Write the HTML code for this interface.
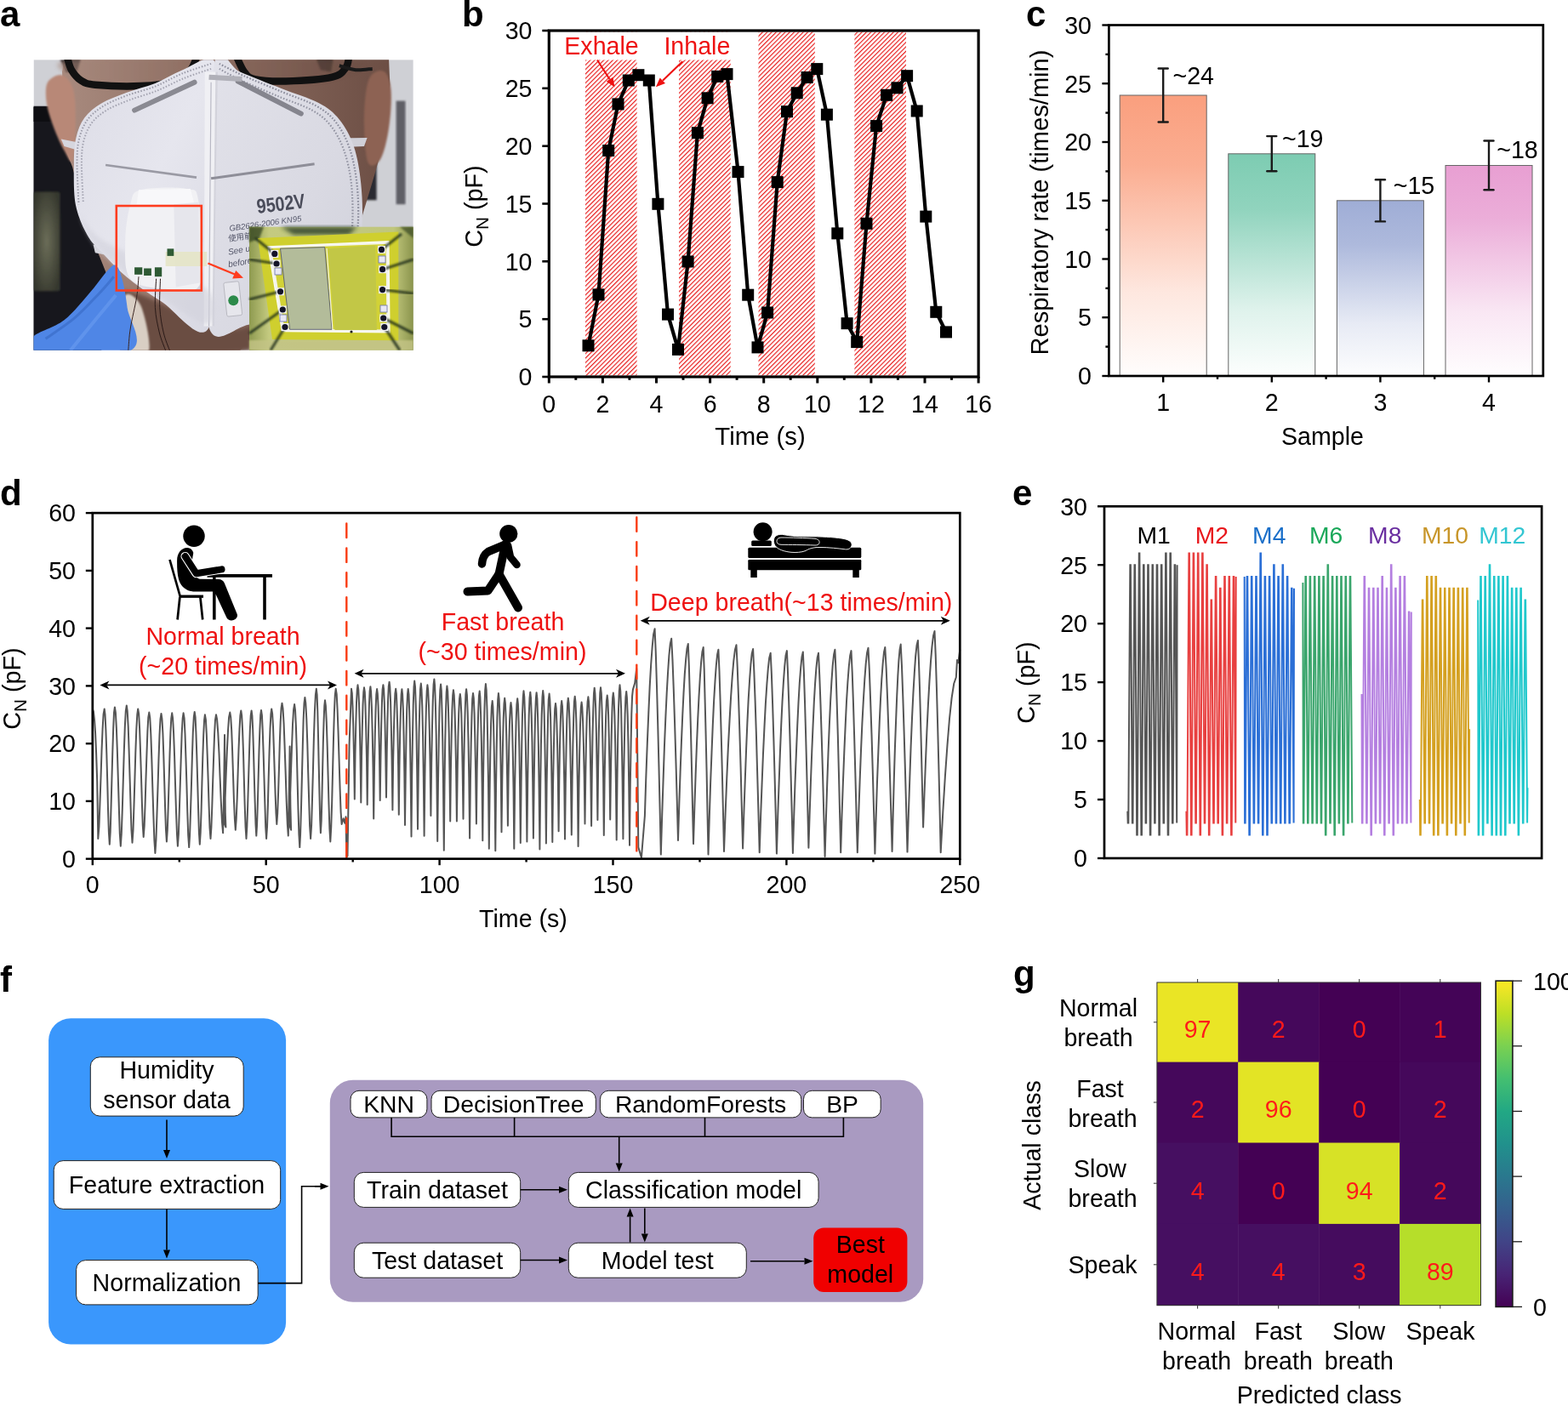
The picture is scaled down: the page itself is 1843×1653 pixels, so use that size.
<!DOCTYPE html>
<html><head><meta charset="utf-8"><title>Figure</title>
<style>html,body{margin:0;padding:0;background:#fff;}svg{display:block;}text{font-family:'Liberation Sans', 'Noto Sans CJK SC', sans-serif;}</style>
</head><body>
<svg width="1843" height="1653" viewBox="0 0 1843 1653">
<rect width="1843" height="1653" fill="#fff"/>
<text x="543" y="30.5" font-size="42" text-anchor="start" fill="#000" font-weight="bold" >b</text>
<defs><pattern id="hatch" patternUnits="userSpaceOnUse" width="3.75" height="3.75" patternTransform="rotate(45)"><rect width="3.75" height="3.75" fill="#fff"/><rect x="0" y="0" width="1.15" height="3.75" fill="#e81818"/></pattern></defs>
<rect x="688" y="37.5" width="60.6" height="404" fill="url(#hatch)"/>
<rect x="798" y="37.5" width="60.7" height="404" fill="url(#hatch)"/>
<rect x="891.5" y="37.5" width="66.3" height="404" fill="url(#hatch)"/>
<rect x="1004.4" y="37.5" width="60.6" height="404" fill="url(#hatch)"/>
<rect x="655" y="37.6" width="215" height="32.9" fill="#fff"/>
<polyline points="691.5,406.3 703.5,346.4 715.2,177 726.5,122.4 738.8,94.5 750.4,88.2 762.8,94.5 773.4,239.8 785,369.6 797,410.9 808.6,307.5 819.9,156.2 831.6,115.3 843.2,89.9 854.5,87.1 867.5,202.1 879.2,346.7 890.5,408.4 902.1,367.5 913.7,214.1 925,131.2 936.7,109.3 948.6,91 960.3,81.1 971.9,134.7 984.3,274.4 995.6,380.2 1007.2,402.1 1018.5,262.8 1030.1,148.1 1042.1,111.8 1054.5,103.3 1066.1,89.2 1077.7,130.5 1088.3,254.6 1100.3,366.8 1112,390.4" fill="none" stroke="#000" stroke-width="4.2" stroke-linejoin="round"/>
<rect x="684.5" y="399.3" width="14" height="14" fill="#000"/>
<rect x="696.5" y="339.4" width="14" height="14" fill="#000"/>
<rect x="708.2" y="170" width="14" height="14" fill="#000"/>
<rect x="719.5" y="115.4" width="14" height="14" fill="#000"/>
<rect x="731.8" y="87.5" width="14" height="14" fill="#000"/>
<rect x="743.4" y="81.2" width="14" height="14" fill="#000"/>
<rect x="755.8" y="87.5" width="14" height="14" fill="#000"/>
<rect x="766.4" y="232.8" width="14" height="14" fill="#000"/>
<rect x="778" y="362.6" width="14" height="14" fill="#000"/>
<rect x="790" y="403.9" width="14" height="14" fill="#000"/>
<rect x="801.6" y="300.5" width="14" height="14" fill="#000"/>
<rect x="812.9" y="149.2" width="14" height="14" fill="#000"/>
<rect x="824.6" y="108.3" width="14" height="14" fill="#000"/>
<rect x="836.2" y="82.9" width="14" height="14" fill="#000"/>
<rect x="847.5" y="80.1" width="14" height="14" fill="#000"/>
<rect x="860.5" y="195.1" width="14" height="14" fill="#000"/>
<rect x="872.2" y="339.7" width="14" height="14" fill="#000"/>
<rect x="883.5" y="401.4" width="14" height="14" fill="#000"/>
<rect x="895.1" y="360.5" width="14" height="14" fill="#000"/>
<rect x="906.7" y="207.1" width="14" height="14" fill="#000"/>
<rect x="918" y="124.2" width="14" height="14" fill="#000"/>
<rect x="929.7" y="102.3" width="14" height="14" fill="#000"/>
<rect x="941.6" y="84" width="14" height="14" fill="#000"/>
<rect x="953.3" y="74.1" width="14" height="14" fill="#000"/>
<rect x="964.9" y="127.7" width="14" height="14" fill="#000"/>
<rect x="977.3" y="267.4" width="14" height="14" fill="#000"/>
<rect x="988.6" y="373.2" width="14" height="14" fill="#000"/>
<rect x="1000.2" y="395.1" width="14" height="14" fill="#000"/>
<rect x="1011.5" y="255.8" width="14" height="14" fill="#000"/>
<rect x="1023.1" y="141.1" width="14" height="14" fill="#000"/>
<rect x="1035.1" y="104.8" width="14" height="14" fill="#000"/>
<rect x="1047.5" y="96.3" width="14" height="14" fill="#000"/>
<rect x="1059.1" y="82.2" width="14" height="14" fill="#000"/>
<rect x="1070.7" y="123.5" width="14" height="14" fill="#000"/>
<rect x="1081.3" y="247.6" width="14" height="14" fill="#000"/>
<rect x="1093.3" y="359.8" width="14" height="14" fill="#000"/>
<rect x="1105" y="383.4" width="14" height="14" fill="#000"/>
<rect x="645.3" y="36" width="504.8" height="407" fill="none" stroke="#000" stroke-width="3.2"/>
<line x1="645.3" y1="443" x2="645.3" y2="450.5" stroke="#000" stroke-width="3" />
<text x="645.3" y="484.6" font-size="28.6" text-anchor="middle" fill="#000" >0</text>
<line x1="676.8" y1="443" x2="676.8" y2="446.8" stroke="#000" stroke-width="3" />
<line x1="708.4" y1="443" x2="708.4" y2="450.5" stroke="#000" stroke-width="3" />
<text x="708.4" y="484.6" font-size="28.6" text-anchor="middle" fill="#000" >2</text>
<line x1="739.9" y1="443" x2="739.9" y2="446.8" stroke="#000" stroke-width="3" />
<line x1="771.5" y1="443" x2="771.5" y2="450.5" stroke="#000" stroke-width="3" />
<text x="771.5" y="484.6" font-size="28.6" text-anchor="middle" fill="#000" >4</text>
<line x1="803" y1="443" x2="803" y2="446.8" stroke="#000" stroke-width="3" />
<line x1="834.6" y1="443" x2="834.6" y2="450.5" stroke="#000" stroke-width="3" />
<text x="834.6" y="484.6" font-size="28.6" text-anchor="middle" fill="#000" >6</text>
<line x1="866.1" y1="443" x2="866.1" y2="446.8" stroke="#000" stroke-width="3" />
<line x1="897.7" y1="443" x2="897.7" y2="450.5" stroke="#000" stroke-width="3" />
<text x="897.7" y="484.6" font-size="28.6" text-anchor="middle" fill="#000" >8</text>
<line x1="929.2" y1="443" x2="929.2" y2="446.8" stroke="#000" stroke-width="3" />
<line x1="960.8" y1="443" x2="960.8" y2="450.5" stroke="#000" stroke-width="3" />
<text x="960.8" y="484.6" font-size="28.6" text-anchor="middle" fill="#000" >10</text>
<line x1="992.3" y1="443" x2="992.3" y2="446.8" stroke="#000" stroke-width="3" />
<line x1="1023.9" y1="443" x2="1023.9" y2="450.5" stroke="#000" stroke-width="3" />
<text x="1023.9" y="484.6" font-size="28.6" text-anchor="middle" fill="#000" >12</text>
<line x1="1055.4" y1="443" x2="1055.4" y2="446.8" stroke="#000" stroke-width="3" />
<line x1="1087" y1="443" x2="1087" y2="450.5" stroke="#000" stroke-width="3" />
<text x="1087" y="484.6" font-size="28.6" text-anchor="middle" fill="#000" >14</text>
<line x1="1118.5" y1="443" x2="1118.5" y2="446.8" stroke="#000" stroke-width="3" />
<line x1="1150.1" y1="443" x2="1150.1" y2="450.5" stroke="#000" stroke-width="3" />
<text x="1150.1" y="484.6" font-size="28.6" text-anchor="middle" fill="#000" >16</text>
<line x1="637.3" y1="443" x2="645.3" y2="443" stroke="#000" stroke-width="2.6" />
<text x="625.5" y="453.2" font-size="28.6" text-anchor="end" fill="#000" >0</text>
<line x1="637.3" y1="375.2" x2="645.3" y2="375.2" stroke="#000" stroke-width="2.6" />
<text x="625.5" y="385.4" font-size="28.6" text-anchor="end" fill="#000" >5</text>
<line x1="637.3" y1="307.3" x2="645.3" y2="307.3" stroke="#000" stroke-width="2.6" />
<text x="625.5" y="317.5" font-size="28.6" text-anchor="end" fill="#000" >10</text>
<line x1="637.3" y1="239.5" x2="645.3" y2="239.5" stroke="#000" stroke-width="2.6" />
<text x="625.5" y="249.7" font-size="28.6" text-anchor="end" fill="#000" >15</text>
<line x1="637.3" y1="171.7" x2="645.3" y2="171.7" stroke="#000" stroke-width="2.6" />
<text x="625.5" y="181.9" font-size="28.6" text-anchor="end" fill="#000" >20</text>
<line x1="637.3" y1="103.8" x2="645.3" y2="103.8" stroke="#000" stroke-width="2.6" />
<text x="625.5" y="114" font-size="28.6" text-anchor="end" fill="#000" >25</text>
<line x1="637.3" y1="36" x2="645.3" y2="36" stroke="#000" stroke-width="2.6" />
<text x="625.5" y="46.2" font-size="28.6" text-anchor="end" fill="#000" >30</text>
<text x="893.5" y="522.8" font-size="29.3" text-anchor="middle" fill="#000" >Time (s)</text>
<text transform="translate(567,242.5) rotate(-90)" font-size="28.8" text-anchor="middle">C<tspan font-size="20.5" dy="7.2">N</tspan><tspan dy="-7.2"> (pF)</tspan></text>
<text x="663.3" y="63.5" font-size="28.6" text-anchor="start" fill="#ee1111" >Exhale</text>
<text x="780.4" y="63.5" font-size="28.6" text-anchor="start" fill="#ee1111" >Inhale</text>
<line x1="702" y1="70.5" x2="716.6" y2="93.2" stroke="#ee1111" stroke-width="2.1" />
<polygon points="722.5,102.5 712.8,95.7 720.4,90.8" fill="#ee1111"/>
<line x1="802.3" y1="72.3" x2="778.9" y2="94.7" stroke="#ee1111" stroke-width="2.1" />
<polygon points="770.9,102.3 775.7,91.4 782,98" fill="#ee1111"/>
<text x="1206" y="31" font-size="42" text-anchor="start" fill="#000" font-weight="bold" >c</text>
<defs><linearGradient id="g1" x1="0" y1="0" x2="0" y2="1"><stop offset="0" stop-color="#fa9f7e"/><stop offset="0.25" stop-color="#fa9f7e" stop-opacity="0.85"/><stop offset="0.7" stop-color="#fa9f7e" stop-opacity="0.25"/><stop offset="1" stop-color="#fa9f7e" stop-opacity="0.02"/></linearGradient><linearGradient id="g2" x1="0" y1="0" x2="0" y2="1"><stop offset="0" stop-color="#7dccb2"/><stop offset="0.25" stop-color="#7dccb2" stop-opacity="0.85"/><stop offset="0.7" stop-color="#7dccb2" stop-opacity="0.25"/><stop offset="1" stop-color="#7dccb2" stop-opacity="0.02"/></linearGradient><linearGradient id="g3" x1="0" y1="0" x2="0" y2="1"><stop offset="0" stop-color="#9fadd6"/><stop offset="0.25" stop-color="#9fadd6" stop-opacity="0.85"/><stop offset="0.7" stop-color="#9fadd6" stop-opacity="0.25"/><stop offset="1" stop-color="#9fadd6" stop-opacity="0.02"/></linearGradient><linearGradient id="g4" x1="0" y1="0" x2="0" y2="1"><stop offset="0" stop-color="#e89fd2"/><stop offset="0.25" stop-color="#e89fd2" stop-opacity="0.85"/><stop offset="0.7" stop-color="#e89fd2" stop-opacity="0.25"/><stop offset="1" stop-color="#e89fd2" stop-opacity="0.02"/></linearGradient></defs>
<rect x="1316.2" y="112" width="102" height="330" fill="url(#g1)" stroke="#666" stroke-width="1"/>
<rect x="1443.8" y="180.8" width="102" height="261.2" fill="url(#g2)" stroke="#666" stroke-width="1"/>
<rect x="1571.4" y="235.8" width="102" height="206.2" fill="url(#g3)" stroke="#666" stroke-width="1"/>
<rect x="1699" y="194.5" width="102" height="247.5" fill="url(#g4)" stroke="#666" stroke-width="1"/>
<line x1="1367.2" y1="80.5" x2="1367.2" y2="143.5" stroke="#1a1a1a" stroke-width="2.4" />
<line x1="1361.7" y1="80.5" x2="1372.7" y2="80.5" stroke="#1a1a1a" stroke-width="2.4" stroke-linecap="round"/>
<line x1="1361.7" y1="143.5" x2="1372.7" y2="143.5" stroke="#1a1a1a" stroke-width="2.4" stroke-linecap="round"/>
<line x1="1494.8" y1="160.1" x2="1494.8" y2="201.2" stroke="#1a1a1a" stroke-width="2.4" />
<line x1="1489.3" y1="160.1" x2="1500.3" y2="160.1" stroke="#1a1a1a" stroke-width="2.4" stroke-linecap="round"/>
<line x1="1489.3" y1="201.2" x2="1500.3" y2="201.2" stroke="#1a1a1a" stroke-width="2.4" stroke-linecap="round"/>
<line x1="1622.4" y1="211.2" x2="1622.4" y2="260.4" stroke="#1a1a1a" stroke-width="2.4" />
<line x1="1616.9" y1="211.2" x2="1627.9" y2="211.2" stroke="#1a1a1a" stroke-width="2.4" stroke-linecap="round"/>
<line x1="1616.9" y1="260.4" x2="1627.9" y2="260.4" stroke="#1a1a1a" stroke-width="2.4" stroke-linecap="round"/>
<line x1="1750" y1="165.5" x2="1750" y2="223.2" stroke="#1a1a1a" stroke-width="2.4" />
<line x1="1744.5" y1="165.5" x2="1755.5" y2="165.5" stroke="#1a1a1a" stroke-width="2.4" stroke-linecap="round"/>
<line x1="1744.5" y1="223.2" x2="1755.5" y2="223.2" stroke="#1a1a1a" stroke-width="2.4" stroke-linecap="round"/>
<text x="1378.5" y="99.2" font-size="28.6" text-anchor="start" fill="#000" >~24</text>
<text x="1507" y="172.5" font-size="28.6" text-anchor="start" fill="#000" >~19</text>
<text x="1637.7" y="227.5" font-size="28.6" text-anchor="start" fill="#000" >~15</text>
<text x="1759.2" y="185.5" font-size="28.6" text-anchor="start" fill="#000" >~18</text>
<rect x="1303.4" y="29.5" width="510.4" height="412.5" fill="none" stroke="#000" stroke-width="2.7"/>
<line x1="1295.4" y1="442" x2="1303.4" y2="442" stroke="#000" stroke-width="2.4" />
<text x="1283" y="452.2" font-size="28.6" text-anchor="end" fill="#000" >0</text>
<line x1="1299.4" y1="407.6" x2="1303.4" y2="407.6" stroke="#000" stroke-width="2.4" />
<line x1="1295.4" y1="373.2" x2="1303.4" y2="373.2" stroke="#000" stroke-width="2.4" />
<text x="1283" y="383.4" font-size="28.6" text-anchor="end" fill="#000" >5</text>
<line x1="1299.4" y1="338.9" x2="1303.4" y2="338.9" stroke="#000" stroke-width="2.4" />
<line x1="1295.4" y1="304.5" x2="1303.4" y2="304.5" stroke="#000" stroke-width="2.4" />
<text x="1283" y="314.7" font-size="28.6" text-anchor="end" fill="#000" >10</text>
<line x1="1299.4" y1="270.1" x2="1303.4" y2="270.1" stroke="#000" stroke-width="2.4" />
<line x1="1295.4" y1="235.8" x2="1303.4" y2="235.8" stroke="#000" stroke-width="2.4" />
<text x="1283" y="245.9" font-size="28.6" text-anchor="end" fill="#000" >15</text>
<line x1="1299.4" y1="201.4" x2="1303.4" y2="201.4" stroke="#000" stroke-width="2.4" />
<line x1="1295.4" y1="167" x2="1303.4" y2="167" stroke="#000" stroke-width="2.4" />
<text x="1283" y="177.2" font-size="28.6" text-anchor="end" fill="#000" >20</text>
<line x1="1299.4" y1="132.6" x2="1303.4" y2="132.6" stroke="#000" stroke-width="2.4" />
<line x1="1295.4" y1="98.2" x2="1303.4" y2="98.2" stroke="#000" stroke-width="2.4" />
<text x="1283" y="108.5" font-size="28.6" text-anchor="end" fill="#000" >25</text>
<line x1="1299.4" y1="63.9" x2="1303.4" y2="63.9" stroke="#000" stroke-width="2.4" />
<line x1="1295.4" y1="29.5" x2="1303.4" y2="29.5" stroke="#000" stroke-width="2.4" />
<text x="1283" y="39.7" font-size="28.6" text-anchor="end" fill="#000" >30</text>
<line x1="1367.2" y1="442" x2="1367.2" y2="449.5" stroke="#000" stroke-width="2.4" />
<text x="1367.2" y="482.6" font-size="28.6" text-anchor="middle" fill="#000" >1</text>
<line x1="1431" y1="442" x2="1431" y2="445.8" stroke="#000" stroke-width="2.4" />
<line x1="1494.8" y1="442" x2="1494.8" y2="449.5" stroke="#000" stroke-width="2.4" />
<text x="1494.8" y="482.6" font-size="28.6" text-anchor="middle" fill="#000" >2</text>
<line x1="1558.6" y1="442" x2="1558.6" y2="445.8" stroke="#000" stroke-width="2.4" />
<line x1="1622.4" y1="442" x2="1622.4" y2="449.5" stroke="#000" stroke-width="2.4" />
<text x="1622.4" y="482.6" font-size="28.6" text-anchor="middle" fill="#000" >3</text>
<line x1="1686.2" y1="442" x2="1686.2" y2="445.8" stroke="#000" stroke-width="2.4" />
<line x1="1750" y1="442" x2="1750" y2="449.5" stroke="#000" stroke-width="2.4" />
<text x="1750" y="482.6" font-size="28.6" text-anchor="middle" fill="#000" >4</text>
<text x="1554.5" y="522.5" font-size="28.6" text-anchor="middle" fill="#000" >Sample</text>
<text transform="translate(1232,238) rotate(-90)" font-size="29.1" text-anchor="middle">Respiratory rate (times/min)</text>
<text x="0" y="594" font-size="42" text-anchor="start" fill="#000" font-weight="bold" >d</text>
<path d="M108.8,833.5 L109.9,836.6 L111,846.1 L112.1,862.1 L113.1,885.4 L114.2,918.2 L115.3,986 L116.4,972.2 L117.4,945.9 L118.5,914.4 L119.5,883.1 L120.6,856.9 L121.6,839.6 L122.7,833.5 L123.5,839.8 L124.4,858 L125.3,885.3 L126.2,918 L127,950.9 L127.9,978.4 L128.8,992.8 L129.7,978.2 L130.5,950.4 L131.4,917 L132.3,884 L133.2,856.3 L134,837.9 L134.9,831.5 L135.9,838 L136.9,856.6 L137.9,884.6 L138.9,918.1 L139.9,951.9 L140.8,980 L141.8,994.8 L142.8,979.9 L143.8,951.3 L144.8,917.1 L145.8,883.3 L146.8,854.9 L147.8,836 L148.8,829.4 L149.7,835.9 L150.7,854.2 L151.6,881.9 L152.6,915 L153.6,948.3 L154.5,976.2 L155.5,990.7 L156.5,976.5 L157.4,949.4 L158.4,916.9 L159.3,884.7 L160.3,857.7 L161.3,839.8 L162.2,833.5 L163.2,839.5 L164.1,856.6 L165,882.5 L166,913.3 L166.9,944.4 L167.8,970.4 L168.7,983.9 L169.7,970.7 L170.6,945.5 L171.5,915.2 L172.5,885.2 L173.4,860.1 L174.3,843.4 L175.3,837.6 L176.3,844.2 L177.3,863 L178.3,891.4 L179.3,925.3 L180.4,959.5 L181.4,988 L182.4,1002.9 L183.4,988.1 L184.4,959.8 L185.5,925.9 L186.5,892.3 L187.5,864.1 L188.5,845.5 L189.5,838.9 L190.4,844.9 L191.4,862 L192.3,887.9 L193.2,918.7 L194.1,949.8 L195,975.8 L195.9,989.4 L196.8,975.7 L197.7,949.6 L198.6,918.4 L199.5,887.4 L200.4,861.5 L201.3,844.3 L202.2,838.3 L203.1,844.5 L204.1,862.3 L205.1,889.2 L206,921.3 L207,953.6 L208,980.7 L208.9,994.8 L209.9,980.7 L210.8,953.6 L211.8,921.3 L212.8,889.2 L213.7,862.3 L214.7,844.5 L215.6,838.3 L216.6,844.5 L217.5,862.5 L218.4,889.6 L219.4,922 L220.3,954.6 L221.2,981.9 L222.2,996.1 L223.1,981.8 L224,954.3 L225,921.4 L225.9,888.7 L226.8,861.4 L227.8,843.2 L228.7,836.9 L229.6,843.1 L230.4,860.8 L231.3,887.6 L232.2,919.6 L233.1,951.8 L233.9,978.7 L234.8,992.8 L235.7,979 L236.6,952.7 L237.4,921.2 L238.3,889.9 L239.2,863.7 L240.1,846.4 L240.9,840.3 L241.9,846.1 L242.8,862.7 L243.7,887.7 L244.7,917.6 L245.6,947.7 L246.5,972.8 L247.5,986 L248.4,972.8 L249.3,947.7 L250.2,917.6 L251.2,887.7 L252.1,862.7 L253,846.1 L254,840.3 L255.1,845.8 L256.3,861.6 L257.5,885.5 L258.6,914 L259.8,942.7 L261,966.7 L262.1,979.2 L263.2,928.4 L264,864 L264.8,955.5 L265.4,972.4 L263.3,966.4 L264.5,942 L265.6,912.7 L266.8,883.7 L268,859.3 L269.1,843.2 L270.3,837.6 L271.2,843.1 L272.2,858.8 L273.1,882.6 L274,910.9 L274.9,939.5 L275.9,963.3 L276.8,975.8 L277.7,963.1 L278.7,938.9 L279.6,909.9 L280.5,881.2 L281.5,857.1 L282.4,841.1 L283.3,835.5 L284.2,841.5 L285.1,858.7 L286,884.5 L286.8,915.3 L287.7,946.4 L288.6,972.4 L289.5,986 L290.3,972.4 L291.2,946.4 L292.1,915.3 L293,884.5 L293.8,858.7 L294.7,841.5 L295.6,835.5 L296.4,841.4 L297.2,858.1 L298,883.4 L298.8,913.5 L299.7,943.9 L300.5,969.3 L301.3,982.6 L302.1,969.2 L302.9,943.8 L303.7,913.2 L304.5,882.9 L305.4,857.6 L306.2,840.7 L307,834.9 L307.9,840.9 L308.7,858.1 L309.6,884.1 L310.5,915 L311.4,946.3 L312.2,972.3 L313.1,986 L314,972.2 L314.9,945.9 L315.7,914.4 L316.6,883.1 L317.5,856.9 L318.4,839.6 L319.2,833.5 L320.1,838.9 L321,854.3 L321.8,877.6 L322.7,905.4 L323.6,933.4 L324.5,956.8 L325.3,969 L326.2,956.2 L327.1,931.6 L328,902.2 L328.8,873.1 L329.7,848.6 L330.6,832.4 L331.5,826.7 L332.5,832.9 L333.6,850.7 L334.6,877.5 L335.7,909.4 L336.7,941.6 L337.8,968.5 L338.8,982.6 L339.8,928.4 L340.6,877.6 L341.4,948.7 L342.1,975.8 L339.8,968.6 L340.9,942 L341.9,910 L343,878.4 L344,851.8 L345.1,834.2 L346.1,828.1 L347,834.8 L347.9,853.9 L348.8,882.8 L349.6,917.2 L350.5,952 L351.4,981 L352.3,996.1 L353.1,980.2 L354,949.8 L354.9,913.4 L355.8,877.3 L356.6,847 L357.5,827 L358.4,820 L359.3,826.6 L360.3,845.5 L361.3,874 L362.2,908 L363.2,942.3 L364.1,971 L365.1,986 L366.1,970.1 L367,939.7 L368,903.2 L368.9,867.1 L369.9,836.9 L370.9,816.8 L371.8,809.8 L372.6,816.5 L373.3,835.8 L374,864.9 L374.7,899.6 L375.5,934.7 L376.2,963.9 L376.9,979.2 L377.7,965.1 L378.4,938.2 L379.1,906 L379.8,874.1 L380.6,847.3 L381.3,829.5 L382,823.3 L382.9,830 L383.8,848.9 L384.7,877.4 L385.6,911.4 L386.5,945.7 L387.4,974.4 L388.3,989.4 L389.2,973.1 L390.2,942.2 L391.1,905 L392,868.2 L392.9,837.4 L393.8,816.9 L394.7,809.8 L395.7,816.1 L396.6,834.3 L397.6,861.6 L398.6,894.3 L399.6,927.2 L400.6,954.7 L401.6,969 L403.6,962.3 L405.3,967.7 L406.5,960.2 L407.3,1007.7 L408.5,1006.3 L410.6,874.2 L413,809.8 L413.8,814.9 L414.5,830 L415.3,854.7 L416,888.7 L416.8,939.4 L417.5,887 L418.3,851.7 L419,826.2 L419.8,810.6 L420.5,805.3 L421.3,810.8 L422,826.9 L422.8,853.2 L423.5,889.6 L424.3,943.6 L425,890.7 L425.8,855.2 L426.5,829.4 L427.3,813.7 L428,808.3 L428.8,813.7 L429.5,829.8 L430.2,856 L431,892.2 L431.7,946 L432.4,891.8 L433.2,855.3 L433.9,828.9 L434.6,812.7 L435.4,807.2 L436.1,813.3 L436.9,831.4 L437.7,861 L438.5,901.9 L439.2,962.6 L440,903 L440.8,862.9 L441.6,833.9 L442.3,816.1 L443.1,810.1 L443.8,815.3 L444.6,830.5 L445.3,855.4 L446,889.8 L446.7,940.9 L447.5,887.9 L448.2,852.2 L448.9,826.4 L449.6,810.6 L450.4,805.2 L451.1,810.4 L451.8,825.9 L452.5,851 L453.2,885.8 L454,937.5 L454.7,884.4 L455.4,848.7 L456.1,822.8 L456.8,807 L457.6,801.7 L458.3,807.6 L459.1,825.2 L459.8,853.8 L460.6,893.4 L461.4,952.3 L462.1,896.6 L462.9,859.1 L463.7,832 L464.4,815.4 L465.2,809.8 L465.9,815.6 L466.6,832.9 L467.4,861 L468.1,899.9 L468.8,957.8 L469.5,900.1 L470.2,861.3 L471,833.2 L471.7,816 L472.4,810.2 L473.1,816.5 L473.9,835.1 L474.6,865.5 L475.3,907.5 L476,969.9 L476.8,907.3 L477.5,865.3 L478.2,834.8 L479,816.2 L479.7,809.9 L480.5,816.7 L481.2,837 L482,870 L482.7,915.7 L483.5,983.5 L484.2,912 L485,863.9 L485.7,829 L486.5,807.7 L487.2,800.5 L488,807.3 L488.7,827.6 L489.5,860.8 L490.2,906.6 L491,974.7 L491.8,907.8 L492.5,862.8 L493.3,830.2 L494,810.3 L494.8,803.5 L495.5,810.6 L496.3,831.5 L497.1,865.6 L497.8,912.7 L498.6,982.8 L499.4,913.4 L500.1,866.7 L500.9,833 L501.7,812.3 L502.4,805.3 L503.2,811.3 L504,829.3 L504.8,858.5 L505.6,899 L506.4,959.1 L507.2,896.3 L508,854.1 L508.8,823.6 L509.6,804.8 L510.4,798.5 L511.1,806 L511.9,828.2 L512.7,864.5 L513.4,914.6 L514.2,989 L515,916.9 L515.8,868.4 L516.5,833.2 L517.3,811.7 L518.1,804.4 L518.8,812.1 L519.5,834.9 L520.3,872.1 L521,923.5 L521.8,999.8 L522.5,924.3 L523.2,873.5 L524,836.7 L524.7,814.1 L525.4,806.5 L526.2,812.8 L526.9,831.4 L527.7,861.6 L528.4,903.5 L529.2,965.6 L529.9,905.3 L530.7,864.7 L531.4,835.3 L532.2,817.3 L532.9,811.2 L533.7,817.2 L534.5,835.3 L535.3,864.7 L536.1,905.2 L536.9,965.6 L537.7,907.1 L538.4,867.7 L539.2,839.2 L540,821.8 L540.8,815.9 L541.5,821.7 L542.3,838.8 L543,866.8 L543.7,905.4 L544.5,962.8 L545.2,903.2 L545.9,863 L546.7,834 L547.4,816.2 L548.1,810.2 L548.9,817.1 L549.7,837.5 L550.5,870.8 L551.3,916.9 L552.1,985.4 L552.9,918.8 L553.7,874 L554.5,841.6 L555.2,821.7 L556,815 L556.8,821 L557.6,839 L558.3,868.2 L559.1,908.6 L559.9,968.6 L560.6,907.6 L561.4,866.6 L562.2,836.9 L562.9,818.7 L563.7,812.6 L564.4,819.5 L565.1,840 L565.9,873.4 L566.6,919.6 L567.3,988.3 L568,916.3 L568.7,867.9 L569.5,832.8 L570.2,811.4 L570.9,804.1 L571.7,811.7 L572.5,834.3 L573.2,871.2 L574,922.1 L574.8,997.7 L575.6,929.9 L576.3,884.2 L577.1,851.2 L577.9,830.9 L578.7,824.1 L579.4,831 L580.1,851.6 L580.8,885.1 L581.6,931.4 L582.3,1000.3 L583,927.9 L583.7,879.2 L584.4,844 L585.2,822.4 L585.9,815.1 L586.6,821.5 L587.4,840.6 L588.1,871.6 L588.8,914.5 L589.5,978.3 L590.3,916.7 L591,875.3 L591.7,845.4 L592.5,827 L593.2,820.8 L593.9,826.7 L594.7,844.2 L595.4,872.7 L596.1,912.1 L596.9,970.7 L597.6,914.1 L598.3,876.1 L599,848.5 L599.8,831.7 L600.5,826 L601.3,832.7 L602,852.8 L602.8,885.5 L603.6,930.6 L604.3,997.8 L605.1,928.8 L605.9,882.4 L606.6,848.8 L607.4,828.2 L608.2,821.2 L608.9,827.9 L609.6,847.7 L610.4,880 L611.1,924.7 L611.8,991 L612.6,921.2 L613.3,874.2 L614,840.2 L614.8,819.3 L615.5,812.3 L616.3,819.3 L617,839.9 L617.8,873.7 L618.6,920.3 L619.4,989.5 L620.2,920.8 L620.9,874.6 L621.7,841.1 L622.5,820.6 L623.3,813.7 L624,820.5 L624.7,840.5 L625.5,873.2 L626.2,918.4 L626.9,985.6 L627.7,918.6 L628.4,873.5 L629.1,840.9 L629.9,820.9 L630.6,814.2 L631.4,821.4 L632.1,842.9 L632.9,878 L633.6,926.5 L634.4,998.5 L635.2,925.6 L635.9,876.6 L636.7,841.1 L637.5,819.3 L638.2,812 L639,819.1 L639.7,840 L640.4,874.2 L641.2,921.4 L641.9,991.5 L642.6,922.7 L643.4,876.5 L644.1,843 L644.8,822.4 L645.6,815.5 L646.3,822.4 L647.1,842.7 L647.8,875.9 L648.5,921.7 L649.3,989.9 L650,926.2 L650.8,883.3 L651.5,852.3 L652.2,833.3 L653,826.9 L653.7,832.8 L654.4,850.3 L655.2,879 L655.9,918.5 L656.6,977.3 L657.3,917.4 L658,877.2 L658.8,848 L659.5,830.2 L660.2,824.1 L661,830.5 L661.7,849.5 L662.5,880.4 L663.3,923.1 L664,986.6 L664.8,921.7 L665.6,878.1 L666.3,846.6 L667.1,827.2 L667.8,820.7 L668.6,827 L669.4,845.8 L670.2,876.4 L671,918.7 L671.8,981.6 L672.6,918 L673.4,875.1 L674.2,844.1 L674.9,825.1 L675.7,818.7 L676.5,825.7 L677.3,846.2 L678.1,879.7 L678.9,926 L679.6,994.9 L680.4,928.7 L681.2,884.2 L682,852 L682.8,832.2 L683.6,825.6 L684.3,831.2 L685.1,847.9 L685.9,875.1 L686.7,912.6 L687.5,968.4 L688.3,910.2 L689,871 L689.8,842.6 L690.6,825.2 L691.4,819.3 L692.1,825.3 L692.9,843 L693.6,871.9 L694.3,911.8 L695.1,971.1 L695.8,907.6 L696.5,864.9 L697.3,834 L698,815 L698.7,808.7 L699.4,814.8 L700.2,832.9 L700.9,862.4 L701.6,903.3 L702.4,964 L703.1,903.1 L703.8,862.2 L704.6,832.5 L705.3,814.4 L706,808.2 L706.8,815.1 L707.6,835.3 L708.3,868.4 L709.1,914 L709.8,981.9 L710.6,917.7 L711.4,874.5 L712.1,843.2 L712.9,824 L713.7,817.6 L714.4,823.3 L715.1,840.3 L715.8,868.1 L716.5,906.5 L717.2,963.5 L718,905.3 L718.7,866.1 L719.4,837.7 L720.1,820.3 L720.8,814.5 L721.6,821.3 L722.4,841.4 L723.2,874.4 L723.9,919.8 L724.7,987.4 L725.5,916.3 L726.2,868.4 L727,833.7 L727.8,812.5 L728.5,805.3 L729.3,812.5 L730.1,833.5 L730.8,868 L731.6,915.5 L732.4,986.2 L733.1,918.5 L733.9,872.9 L734.6,839.9 L735.4,819.7 L736.2,812.9 L736.9,820 L737.7,841.1 L738.5,875.5 L739.2,923.1 L740,993.8 L740.8,922.3 L741.6,874.2 L742.3,839.4 L743.1,818.1 L743.9,810.9 L746.2,803 L748.2,786.1 L750.3,996.1 L753.9,1008.3 L757.9,959 L759.3,914.4 L760.8,874 L762.3,838.1 L763.7,806.9 L765.2,780.8 L766.7,760.1 L768.1,745.7 L769.6,739.3 L770.8,767.6 L772,806.5 L773.2,850.9 L774.4,899.1 L775.6,950.5 L776.8,1004.6 L778.2,958.6 L779.6,916.4 L780.9,878.2 L782.3,844.3 L783.7,814.8 L785.1,790 L786.4,770.5 L787.8,756.9 L789.2,750.8 L790.5,776.1 L791.8,810.9 L793.1,850.6 L794.4,893.7 L795.7,939.7 L797,988 L798.3,946.1 L799.6,907.7 L800.9,872.9 L802.2,842 L803.5,815.1 L804.8,792.6 L806.2,774.8 L807.5,762.4 L808.8,756.9 L809.8,782 L810.8,816.5 L811.9,855.8 L812.9,898.6 L813.9,944.2 L815,992.1 L816.3,950.1 L817.6,911.7 L818.9,877 L820.2,846.1 L821.5,819.2 L822.8,796.7 L824.1,778.9 L825.4,766.5 L826.7,761 L827.7,786.9 L828.6,822.7 L829.6,863.4 L830.6,907.8 L831.5,955 L832.5,1004.6 L833.8,960.9 L835.1,920.9 L836.5,884.6 L837.8,852.4 L839.1,824.4 L840.5,800.9 L841.8,782.4 L843.1,769.5 L844.4,763.7 L845.5,789 L846.6,823.8 L847.7,863.4 L848.8,906.6 L849.9,952.6 L851,1000.9 L852.6,956.9 L854.2,916.5 L855.8,880.1 L857.5,847.6 L859.1,819.4 L860.7,795.8 L862.3,777.1 L863.9,764.1 L865.5,758.3 L866.7,783.8 L868,818.9 L869.3,858.9 L870.6,902.4 L871.8,948.8 L873.1,997.5 L874.4,955 L875.8,916 L877.1,880.7 L878.4,849.4 L879.7,822.1 L881.1,799.3 L882.4,781.2 L883.7,768.6 L885.1,763 L886.3,788.5 L887.6,823.6 L888.9,863.6 L890.1,907.1 L891.4,953.5 L892.7,1002.2 L894.1,959.7 L895.6,920.7 L897,885.5 L898.5,854.1 L899.9,826.8 L901.4,804 L902.8,786 L904.2,773.4 L905.7,767.8 L906.9,792.9 L908.1,827.5 L909.3,866.9 L910.5,909.8 L911.7,955.5 L912.9,1003.6 L914.2,960.3 L915.6,920.7 L916.9,884.8 L918.2,852.9 L919.5,825.2 L920.9,801.9 L922.2,783.6 L923.5,770.8 L924.9,765.1 L926,790.4 L927.2,825.3 L928.4,865.1 L929.5,908.4 L930.7,954.4 L931.9,1002.9 L933.2,960 L934.5,920.7 L935.9,885.1 L937.2,853.5 L938.5,826 L939.8,803 L941.2,784.8 L942.5,772.1 L943.8,766.4 L944.9,791 L946,824.8 L947.1,863.3 L948.2,905.2 L949.3,949.9 L950.4,996.8 L951.7,955.3 L953,917.2 L954.3,882.7 L955.6,852.1 L956.8,825.5 L958.1,803.2 L959.4,785.5 L960.7,773.2 L962,767.8 L963.2,793.2 L964.5,828.4 L965.8,868.4 L967.1,911.9 L968.3,958.2 L969.6,1007 L970.9,962.8 L972.2,922.4 L973.5,885.8 L974.8,853.3 L976.1,825 L977.4,801.3 L978.7,782.6 L980.1,769.5 L981.4,763.7 L982.5,789.1 L983.6,824.1 L984.8,864 L985.9,907.4 L987,953.6 L988.2,1002.2 L989.5,959.2 L990.9,919.8 L992.3,884.1 L993.7,852.4 L995,824.8 L996.4,801.7 L997.8,783.5 L999.2,770.7 L1000.5,765.1 L1001.7,790.3 L1002.9,825.1 L1004.1,864.8 L1005.3,907.9 L1006.5,953.9 L1007.8,1002.2 L1009.2,958.6 L1010.6,918.6 L1012,882.4 L1013.4,850.2 L1014.9,822.3 L1016.3,798.8 L1017.7,780.3 L1019.1,767.4 L1020.5,761.7 L1021.8,787.4 L1023.1,822.9 L1024.5,863.4 L1025.8,907.4 L1027.1,954.3 L1028.4,1003.6 L1029.7,959.6 L1031,919.2 L1032.4,882.8 L1033.7,850.3 L1035,822.1 L1036.3,798.5 L1037.7,779.8 L1039,766.8 L1040.3,761 L1041.7,786.5 L1043.1,821.8 L1044.5,861.9 L1045.8,905.5 L1047.2,952 L1048.6,1000.9 L1049.7,956.7 L1050.8,916.3 L1051.9,879.7 L1053.1,847.2 L1054.2,818.9 L1055.3,795.2 L1056.4,776.5 L1057.6,763.4 L1058.7,757.6 L1060,783.6 L1061.3,819.4 L1062.6,860.2 L1063.9,904.6 L1065.2,951.8 L1066.5,1001.6 L1067.9,956.4 L1069.3,915.1 L1070.6,877.7 L1072,844.4 L1073.4,815.5 L1074.8,791.3 L1076.1,772.1 L1077.5,758.8 L1078.9,752.9 L1079.9,776.2 L1081,808.5 L1082,845.2 L1083,885.1 L1084,927.7 L1085.1,972.4 L1086.6,930.6 L1088.1,892.3 L1089.5,857.7 L1091,826.8 L1092.5,800.1 L1094,777.6 L1095.5,759.9 L1097,747.5 L1098.5,742 L1099.7,769.7 L1100.9,807.9 L1102.1,851.4 L1103.3,898.8 L1104.5,949.2 L1105.7,1002.2 L1108.3,954.8 L1110.9,912.5 L1113.5,875.8 L1116,845 L1118.6,820.7 L1121.2,803.8 L1123.8,796.2 L1125,775.9 L1126.3,779.3 L1128.3,763.7" fill="none" stroke="#555" stroke-width="2" stroke-linejoin="round"/>
<line x1="407.3" y1="615.5" x2="407.3" y2="1008.7" stroke="#fa3c12" stroke-width="2.4" stroke-dasharray="16.5 12.4" stroke-linecap="round"/>
<line x1="748.3" y1="608.2" x2="748.3" y2="1008.7" stroke="#fa3c12" stroke-width="2.4" stroke-dasharray="16.5 12.4" stroke-linecap="round"/>
<rect x="108.8" y="603.1" width="1019.5" height="406.6" fill="none" stroke="#000" stroke-width="2.7"/>
<line x1="100.8" y1="1009.7" x2="108.8" y2="1009.7" stroke="#000" stroke-width="2.4" />
<text x="89" y="1019.9" font-size="28.6" text-anchor="end" fill="#000" >0</text>
<line x1="100.8" y1="941.9" x2="108.8" y2="941.9" stroke="#000" stroke-width="2.4" />
<text x="89" y="952.1" font-size="28.6" text-anchor="end" fill="#000" >10</text>
<line x1="100.8" y1="874.2" x2="108.8" y2="874.2" stroke="#000" stroke-width="2.4" />
<text x="89" y="884.4" font-size="28.6" text-anchor="end" fill="#000" >20</text>
<line x1="100.8" y1="806.4" x2="108.8" y2="806.4" stroke="#000" stroke-width="2.4" />
<text x="89" y="816.6" font-size="28.6" text-anchor="end" fill="#000" >30</text>
<line x1="100.8" y1="738.6" x2="108.8" y2="738.6" stroke="#000" stroke-width="2.4" />
<text x="89" y="748.8" font-size="28.6" text-anchor="end" fill="#000" >40</text>
<line x1="100.8" y1="670.9" x2="108.8" y2="670.9" stroke="#000" stroke-width="2.4" />
<text x="89" y="681.1" font-size="28.6" text-anchor="end" fill="#000" >50</text>
<line x1="100.8" y1="603.1" x2="108.8" y2="603.1" stroke="#000" stroke-width="2.4" />
<text x="89" y="613.3" font-size="28.6" text-anchor="end" fill="#000" >60</text>
<line x1="108.8" y1="1009.7" x2="108.8" y2="1017.2" stroke="#000" stroke-width="2.4" />
<text x="108.8" y="1050" font-size="28.6" text-anchor="middle" fill="#000" >0</text>
<line x1="210.8" y1="1009.7" x2="210.8" y2="1013.5" stroke="#000" stroke-width="2.4" />
<line x1="312.7" y1="1009.7" x2="312.7" y2="1017.2" stroke="#000" stroke-width="2.4" />
<text x="312.7" y="1050" font-size="28.6" text-anchor="middle" fill="#000" >50</text>
<line x1="414.7" y1="1009.7" x2="414.7" y2="1013.5" stroke="#000" stroke-width="2.4" />
<line x1="516.6" y1="1009.7" x2="516.6" y2="1017.2" stroke="#000" stroke-width="2.4" />
<text x="516.6" y="1050" font-size="28.6" text-anchor="middle" fill="#000" >100</text>
<line x1="618.6" y1="1009.7" x2="618.6" y2="1013.5" stroke="#000" stroke-width="2.4" />
<line x1="720.5" y1="1009.7" x2="720.5" y2="1017.2" stroke="#000" stroke-width="2.4" />
<text x="720.5" y="1050" font-size="28.6" text-anchor="middle" fill="#000" >150</text>
<line x1="822.5" y1="1009.7" x2="822.5" y2="1013.5" stroke="#000" stroke-width="2.4" />
<line x1="924.4" y1="1009.7" x2="924.4" y2="1017.2" stroke="#000" stroke-width="2.4" />
<text x="924.4" y="1050" font-size="28.6" text-anchor="middle" fill="#000" >200</text>
<line x1="1026.4" y1="1009.7" x2="1026.4" y2="1013.5" stroke="#000" stroke-width="2.4" />
<line x1="1128.3" y1="1009.7" x2="1128.3" y2="1017.2" stroke="#000" stroke-width="2.4" />
<text x="1128.3" y="1050" font-size="28.6" text-anchor="middle" fill="#000" >250</text>
<text x="615" y="1090" font-size="28.6" text-anchor="middle" fill="#000" >Time (s)</text>
<text transform="translate(24,809.5) rotate(-90)" font-size="28.8" text-anchor="middle">C<tspan font-size="20.5" dy="7.2">N</tspan><tspan dy="-7.2"> (pF)</tspan></text>
<text x="262" y="758.4" font-size="28.6" text-anchor="middle" fill="#ee1111" >Normal breath</text>
<text x="262" y="792.7" font-size="28.6" text-anchor="middle" fill="#ee1111" >(~20 times/min)</text>
<text x="591" y="740.6" font-size="28.6" text-anchor="middle" fill="#ee1111" >Fast breath</text>
<text x="590.5" y="775.7" font-size="28.6" text-anchor="middle" fill="#ee1111" >(~30 times/min)</text>
<text x="941.8" y="718.4" font-size="28.6" text-anchor="middle" fill="#ee1111" >Deep breath(~13 times/min)</text>
<line x1="125.4" y1="805.4" x2="388" y2="805.4" stroke="#000" stroke-width="1.8" />
<path d="M117.4,805.4 L128.4,800.4 L125.4,805.4 L128.4,810.4 Z" fill="#000"/>
<path d="M396,805.4 L385,800.4 L388,805.4 L385,810.4 Z" fill="#000"/>
<line x1="424.6" y1="791.8" x2="727" y2="791.8" stroke="#000" stroke-width="1.8" />
<path d="M416.6,791.8 L427.6,786.8 L424.6,791.8 L427.6,796.8 Z" fill="#000"/>
<path d="M735,791.8 L724,786.8 L727,791.8 L724,796.8 Z" fill="#000"/>
<line x1="760.7" y1="729.8" x2="1108.8" y2="729.8" stroke="#000" stroke-width="1.8" />
<path d="M752.7,729.8 L763.7,724.8 L760.7,729.8 L763.7,734.8 Z" fill="#000"/>
<path d="M1116.8,729.8 L1105.8,724.8 L1108.8,729.8 L1105.8,734.8 Z" fill="#000"/>
<g fill="#000" stroke="none">
<circle cx="228" cy="630.2" r="12.7"/>
<line x1="199.5" y1="658" x2="211.7" y2="701" stroke="#000" stroke-width="2.7"/>
<line x1="210.5" y1="701.2" x2="239" y2="701.2" stroke="#000" stroke-width="3.3"/>
<line x1="211.4" y1="702" x2="208.6" y2="728.5" stroke="#000" stroke-width="2.7"/>
<line x1="235.4" y1="702" x2="238.2" y2="728.5" stroke="#000" stroke-width="2.7"/>
<line x1="243.5" y1="676.8" x2="320" y2="676.8" stroke="#000" stroke-width="3.7"/>
<line x1="251.8" y1="677" x2="251.8" y2="728.5" stroke="#000" stroke-width="3.6"/>
<line x1="311" y1="677" x2="311" y2="728.5" stroke="#000" stroke-width="3.6"/>
<path d="M220,644 C213,644.3 208.2,650 208.1,659 C208,668 208.5,675 210,681 C212,688 216,692 222,694.5 C225,695.5 229,695.6 233,695.6 L250.8,695.6 L254,699.4 L266.3,726 C268,729.5 273,730.5 276.5,728 C279,726 279.5,723.5 278.5,721.5 L263.8,685.6 C262.5,682.5 260,681 257,681 L237,680.8 C234,680.8 232,680 231,678 L226,660 C226,655 227.5,651 227.2,649.5 C226,646 223.5,643.8 220,644 Z"/>
<path d="M217.6,654 L230.6,674.2 L260.5,669.4" fill="none" stroke="#fff" stroke-width="10.2" stroke-linecap="round" stroke-linejoin="round"/>
<path d="M217.6,654 L230.6,674.2 L260.5,669.4" fill="none" stroke="#000" stroke-width="8" stroke-linecap="round" stroke-linejoin="round"/>
</g>
<g fill="none" stroke="#000" stroke-linecap="round" stroke-linejoin="round">
<circle cx="597.8" cy="627.6" r="10.6" fill="#000" stroke="none"/>
<path d="M594,640 L586.5,675" stroke-width="10"/>
<path d="M592,641 L574,648.5 C570,651 567,656 566.5,663" stroke-width="9.5"/>
<path d="M597,641 L600,655 L607.5,664" stroke-width="8.5"/>
<path d="M586.5,675 L573.5,694.5 L549.5,695.5" stroke-width="10"/>
<path d="M586.5,675 L609,714.5" stroke-width="10"/>
</g>
<g fill="#000">
<circle cx="896.6" cy="625.2" r="11"/>
<rect x="883.2" y="635.6" width="23.6" height="6.4" rx="1.5"/>
<rect x="879.3" y="643.7" width="133" height="12.3" rx="1.5"/>
<rect x="879.3" y="658.1" width="133" height="12.1" rx="1.2"/>
<rect x="882.3" y="669" width="7.5" height="10"/>
<rect x="1002.3" y="669" width="7.5" height="10"/>
<path d="M912,630 C915,628 919,628 922,628.8 C935,631.2 945,630.8 955,630.8 C970,631 985,632 992,633.5 C999,635 1002,638 1001,641.5 C1000,645 997,646.3 993.5,645.8 C985,644.8 975,643.5 963,643.5 C955,643.5 950,645.5 947,647.5 C942,649.5 935,649.8 930,649.3 C922,648.5 914,646 911,641.5 C908.5,637.5 909,632 912,630 Z" stroke="#fff" stroke-width="0.9"/>
<path d="M918,632 C928,632 948,632.5 958,633.3 C962,633.8 963.5,636 963,638.3 C962.5,640.5 960.5,641.2 957,641 C945,640.5 928,640.5 918,640.3 C914.5,640.2 913,638.5 913,636.2 C913,633.8 915,632 918,632 Z" stroke="#fff" stroke-width="0.9"/>
</g>
<text x="1190" y="594" font-size="42" text-anchor="start" fill="#000" font-weight="bold" >e</text>
<polyline points="1325.3,953.8 1325.7,967.6 1326.3,967.6 1328.3,664.2 1328.9,664.2 1330.9,967.6 1331.5,967.6 1333.5,664.2 1334.1,664.2 1336.2,981.4 1336.8,981.4 1338.8,650.5 1339.4,650.5 1341.4,981.4 1342,981.4 1344,664.2 1344.6,664.2 1346.6,967.6 1347.2,967.6 1349.2,664.2 1349.8,664.2 1351.8,981.4 1352.4,981.4 1354.5,664.2 1355,664.2 1357.1,967.6 1357.7,967.6 1359.7,664.2 1360.3,664.2 1362.3,981.4 1362.9,981.4 1364.9,664.2 1365.5,664.2 1367.5,967.6 1368.1,967.6 1370.1,650.5 1370.7,650.5 1372.7,981.4 1373.3,981.4 1375.4,650.5 1376,650.5 1378,967.6 1378.6,967.6 1380.6,664.2 1381.2,664.2 1383.2,967.6 1383.6,664.2" fill="none" stroke="#555555" stroke-width="2.0" stroke-linejoin="miter"/>
<text x="1336.5" y="639.2" font-size="28.3" text-anchor="start" fill="#000000" >M1</text>
<polyline points="1394.4,953.8 1394.8,981.4 1395.4,981.4 1397.4,650.5 1398,650.5 1400,981.4 1400.6,981.4 1402.6,650.5 1403.2,650.5 1405.3,967.6 1405.9,967.6 1407.9,650.5 1408.5,650.5 1410.5,981.4 1411.1,981.4 1413.1,650.5 1413.7,650.5 1415.7,967.6 1416.3,967.6 1418.3,664.2 1418.9,664.2 1420.9,981.4 1421.5,981.4 1423.5,705.6 1424.1,705.6 1426.2,967.6 1426.8,967.6 1428.8,678 1429.4,678 1431.4,967.6 1432,967.6 1434,691.8 1434.6,691.8 1436.6,981.4 1437.2,981.4 1439.2,678 1439.8,678 1441.8,967.6 1442.4,967.6 1444.5,678 1445.1,678 1447.1,981.4 1447.7,981.4 1449.7,678 1450.3,678 1452.3,967.6 1452.7,678" fill="none" stroke="#e84040" stroke-width="2.0" stroke-linejoin="miter"/>
<text x="1404.8" y="639.2" font-size="28.3" text-anchor="start" fill="#e8161b" >M2</text>
<polyline points="1462.7,678 1463.1,967.6 1463.7,967.6 1465.7,678 1466.3,678 1468.3,981.4 1468.9,981.4 1470.9,678 1471.5,678 1473.6,967.6 1474.2,967.6 1476.2,678 1476.8,678 1478.8,967.6 1479.4,967.6 1481.4,650.5 1482,650.5 1484,981.4 1484.6,981.4 1486.6,678 1487.2,678 1489.2,981.4 1489.8,981.4 1491.8,678 1492.4,678 1494.5,967.6 1495.1,967.6 1497.1,664.2 1497.7,664.2 1499.7,967.6 1500.3,967.6 1502.3,678 1502.9,678 1504.9,967.6 1505.5,967.6 1507.5,664.2 1508.1,664.2 1510.1,967.6 1510.7,967.6 1512.8,678 1513.4,678 1515.4,967.6 1516,967.6 1518,691.8 1518.6,691.8 1520.6,967.6 1521,691.8" fill="none" stroke="#2b6fd6" stroke-width="2.0" stroke-linejoin="miter"/>
<text x="1472.1" y="639.2" font-size="28.3" text-anchor="start" fill="#1a6fc9" >M4</text>
<polyline points="1531.4,684.9 1531.8,967.6 1532.4,967.6 1534.4,678 1535,678 1537,967.6 1537.6,967.6 1539.6,678 1540.2,678 1542.3,967.6 1542.9,967.6 1544.9,678 1545.5,678 1547.5,967.6 1548.1,967.6 1550.1,678 1550.7,678 1552.7,967.6 1553.3,967.6 1555.3,678 1555.9,678 1557.9,981.4 1558.5,981.4 1560.5,664.2 1561.1,664.2 1563.2,967.6 1563.8,967.6 1565.8,678 1566.4,678 1568.4,981.4 1569,981.4 1571,678 1571.6,678 1573.6,967.6 1574.2,967.6 1576.2,678 1576.8,678 1578.8,981.4 1579.4,981.4 1581.5,678 1582.1,678 1584.1,967.6 1584.7,967.6 1586.7,678 1587.3,678 1589.3,967.6" fill="none" stroke="#3aa56c" stroke-width="2.0" stroke-linejoin="miter"/>
<text x="1539" y="639.2" font-size="28.3" text-anchor="start" fill="#1aa85a" >M6</text>
<polyline points="1600.5,815.9 1600.9,967.6 1601.5,967.6 1603.5,678 1604.1,678 1606.1,967.6 1606.7,967.6 1608.7,691.8 1609.3,691.8 1611.4,981.4 1612,981.4 1614,691.8 1614.6,691.8 1616.6,967.6 1617.2,967.6 1619.2,691.8 1619.8,691.8 1621.8,967.6 1622.4,967.6 1624.4,678 1625,678 1627,981.4 1627.6,981.4 1629.7,691.8 1630.2,691.8 1632.3,967.6 1632.9,967.6 1634.9,664.2 1635.5,664.2 1637.5,981.4 1638.1,981.4 1640.1,691.8 1640.7,691.8 1642.7,967.6 1643.3,967.6 1645.3,678 1645.9,678 1647.9,967.6 1648.5,967.6 1650.6,678 1651.2,678 1653.2,967.6 1653.8,967.6 1655.8,719.4 1656.4,719.4 1658.4,967.6 1658.8,719.4" fill="none" stroke="#b47fe0" stroke-width="2.0" stroke-linejoin="miter"/>
<text x="1608.1" y="639.2" font-size="28.3" text-anchor="start" fill="#6a2fa0" >M8</text>
<polyline points="1668.8,940 1669.2,981.4 1669.8,981.4 1671.8,705.6 1672.4,705.6 1674.4,967.6 1675,967.6 1677,678 1677.6,678 1679.7,967.6 1680.3,967.6 1682.3,678 1682.9,678 1684.9,981.4 1685.5,981.4 1687.5,678 1688.1,678 1690.1,981.4 1690.7,981.4 1692.7,691.8 1693.3,691.8 1695.3,967.6 1695.9,967.6 1698,691.8 1698.5,691.8 1700.6,981.4 1701.2,981.4 1703.2,691.8 1703.8,691.8 1705.8,967.6 1706.4,967.6 1708.4,691.8 1709,691.8 1711,981.4 1711.6,981.4 1713.6,691.8 1714.2,691.8 1716.2,967.6 1716.8,967.6 1718.9,691.8 1719.5,691.8 1721.5,981.4 1722.1,981.4 1724.1,691.8 1724.7,691.8 1726.7,967.6 1727.1,857.3" fill="none" stroke="#d4a020" stroke-width="2.0" stroke-linejoin="miter"/>
<text x="1671" y="639.2" font-size="28.3" text-anchor="start" fill="#c8962a" >M10</text>
<polyline points="1737.2,705.6 1737.6,981.4 1738.2,981.4 1740.2,678 1740.8,678 1742.8,981.4 1743.4,981.4 1745.4,678 1746,678 1748.1,967.6 1748.7,967.6 1750.7,664.2 1751.3,664.2 1753.3,981.4 1753.9,981.4 1755.9,678 1756.5,678 1758.5,981.4 1759.1,981.4 1761.1,678 1761.7,678 1763.7,981.4 1764.3,981.4 1766.3,678 1766.9,678 1769,981.4 1769.6,981.4 1771.6,678 1772.2,678 1774.2,967.6 1774.8,967.6 1776.8,691.8 1777.4,691.8 1779.4,967.6 1780,967.6 1782,691.8 1782.6,691.8 1784.6,981.4 1785.2,981.4 1787.3,691.8 1787.9,691.8 1789.9,967.6 1790.5,967.6 1792.5,705.6 1793.1,705.6 1795.1,967.6 1795.5,926.3" fill="none" stroke="#20c8cc" stroke-width="2.0" stroke-linejoin="miter"/>
<text x="1738.3" y="639.2" font-size="28.3" text-anchor="start" fill="#33c6d2" >M12</text>
<rect x="1298" y="595.3" width="514.1" height="413.7" fill="none" stroke="#000" stroke-width="2.7"/>
<line x1="1290" y1="1009" x2="1298" y2="1009" stroke="#000" stroke-width="2.4" />
<text x="1278" y="1019.2" font-size="28.6" text-anchor="end" fill="#000" >0</text>
<line x1="1290" y1="940" x2="1298" y2="940" stroke="#000" stroke-width="2.4" />
<text x="1278" y="950.2" font-size="28.6" text-anchor="end" fill="#000" >5</text>
<line x1="1290" y1="871.1" x2="1298" y2="871.1" stroke="#000" stroke-width="2.4" />
<text x="1278" y="881.3" font-size="28.6" text-anchor="end" fill="#000" >10</text>
<line x1="1290" y1="802.1" x2="1298" y2="802.1" stroke="#000" stroke-width="2.4" />
<text x="1278" y="812.4" font-size="28.6" text-anchor="end" fill="#000" >15</text>
<line x1="1290" y1="733.2" x2="1298" y2="733.2" stroke="#000" stroke-width="2.4" />
<text x="1278" y="743.4" font-size="28.6" text-anchor="end" fill="#000" >20</text>
<line x1="1290" y1="664.2" x2="1298" y2="664.2" stroke="#000" stroke-width="2.4" />
<text x="1278" y="674.5" font-size="28.6" text-anchor="end" fill="#000" >25</text>
<line x1="1290" y1="595.3" x2="1298" y2="595.3" stroke="#000" stroke-width="2.4" />
<text x="1278" y="605.5" font-size="28.6" text-anchor="end" fill="#000" >30</text>
<text transform="translate(1215.5,802.5) rotate(-90)" font-size="28.8" text-anchor="middle">C<tspan font-size="20.5" dy="7.2">N</tspan><tspan dy="-7.2"> (pF)</tspan></text>
<text x="0" y="1165.8" font-size="42" text-anchor="start" fill="#000" font-weight="bold" >f</text>
<rect x="57.1" y="1197.2" width="279" height="383.2" rx="26" fill="#3a97fc"/>
<rect x="387.8" y="1269.8" width="697.4" height="260.9" rx="27" fill="#a99ac1"/>
<rect x="106.3" y="1242.8" width="179.9" height="69.3" rx="11" fill="#fff" stroke="#222" stroke-width="1"/>
<rect x="63.2" y="1364.6" width="266.5" height="56.8" rx="11" fill="#fff" stroke="#222" stroke-width="1"/>
<rect x="89.6" y="1481.6" width="213.6" height="52.3" rx="11" fill="#fff" stroke="#222" stroke-width="1"/>
<text x="196" y="1268" font-size="28.6" text-anchor="middle" fill="#000" >Humidity</text>
<text x="196" y="1303" font-size="28.6" text-anchor="middle" fill="#000" >sensor data</text>
<text x="196" y="1402.5" font-size="28.6" text-anchor="middle" fill="#000" >Feature extraction</text>
<text x="196" y="1518" font-size="28.6" text-anchor="middle" fill="#000" >Normalization</text>
<line x1="196" y1="1316.6" x2="196" y2="1352" stroke="#000" stroke-width="1.6" />
<polygon points="196,1362 192,1352 200,1352" fill="#000"/>
<line x1="196" y1="1421.4" x2="196" y2="1469.5" stroke="#000" stroke-width="1.6" />
<polygon points="196,1479.5 192,1469.5 200,1469.5" fill="#000"/>
<polyline points="303.2,1508.6 354.6,1508.6 354.6,1394.7 377,1394.7" fill="none" stroke="#000" stroke-width="1.6" />
<line x1="370" y1="1394.7" x2="376.5" y2="1394.7" stroke="#000" stroke-width="1.6" />
<polygon points="386.5,1394.7 376.5,1398.7 376.5,1390.7" fill="#000"/>
<rect x="412" y="1282.3" width="89.9" height="31.6" rx="10" fill="#fff" stroke="#222" stroke-width="1"/>
<rect x="507" y="1282.3" width="193.3" height="31.6" rx="10" fill="#fff" stroke="#222" stroke-width="1"/>
<rect x="705.4" y="1282.3" width="236.4" height="31.6" rx="10" fill="#fff" stroke="#222" stroke-width="1"/>
<rect x="944.5" y="1282.3" width="90.7" height="31.6" rx="10" fill="#fff" stroke="#222" stroke-width="1"/>
<text x="457" y="1307.5" font-size="28.3" text-anchor="middle" fill="#000" >KNN</text>
<text x="603.7" y="1307.5" font-size="28.3" text-anchor="middle" fill="#000" >DecisionTree</text>
<text x="823.6" y="1307.5" font-size="28.3" text-anchor="middle" fill="#000" >RandomForests</text>
<text x="990" y="1307.5" font-size="28.3" text-anchor="middle" fill="#000" >BP</text>
<polyline points="460.1,1313.9 460.1,1336.2 991.4,1336.2 991.4,1313.9" fill="none" stroke="#000" stroke-width="1.6" />
<line x1="604.6" y1="1313.9" x2="604.6" y2="1336.2" stroke="#000" stroke-width="1.6" />
<line x1="828.5" y1="1313.9" x2="828.5" y2="1336.2" stroke="#000" stroke-width="1.6" />
<line x1="727.7" y1="1336.2" x2="727.7" y2="1367.5" stroke="#000" stroke-width="1.6" />
<polygon points="727.7,1377.5 723.7,1367.5 731.7,1367.5" fill="#000"/>
<rect x="416.3" y="1378.4" width="195.4" height="41" rx="11" fill="#fff" stroke="#222" stroke-width="1"/>
<rect x="668.3" y="1378.4" width="293.8" height="41" rx="11" fill="#fff" stroke="#222" stroke-width="1"/>
<rect x="416.3" y="1461.2" width="195.4" height="41" rx="11" fill="#fff" stroke="#222" stroke-width="1"/>
<rect x="668.3" y="1461.2" width="209" height="41" rx="11" fill="#fff" stroke="#222" stroke-width="1"/>
<rect x="956.2" y="1443.6" width="110.2" height="75.4" rx="12" fill="#f00000"/>
<text x="514" y="1408.5" font-size="28.6" text-anchor="middle" fill="#000" >Train dataset</text>
<text x="815.2" y="1409" font-size="28.6" text-anchor="middle" fill="#000" >Classification model</text>
<text x="514" y="1491.5" font-size="28.6" text-anchor="middle" fill="#000" >Test dataset</text>
<text x="772.8" y="1491.5" font-size="28.6" text-anchor="middle" fill="#000" >Model test</text>
<text x="1011.3" y="1472.5" font-size="28.6" text-anchor="middle" fill="#000" >Best</text>
<text x="1011.3" y="1507.5" font-size="28.6" text-anchor="middle" fill="#000" >model</text>
<line x1="611.7" y1="1398.7" x2="657" y2="1398.7" stroke="#000" stroke-width="1.6" />
<polygon points="667,1398.7 657,1402.7 657,1394.7" fill="#000"/>
<line x1="611.7" y1="1481.5" x2="657" y2="1481.5" stroke="#000" stroke-width="1.6" />
<polygon points="667,1481.5 657,1485.5 657,1477.5" fill="#000"/>
<line x1="740.6" y1="1460.5" x2="740.6" y2="1430.5" stroke="#000" stroke-width="1.6" />
<polygon points="740.6,1420.5 744.6,1430.5 736.6,1430.5" fill="#000"/>
<line x1="757.8" y1="1420.5" x2="757.8" y2="1450.5" stroke="#000" stroke-width="1.6" />
<polygon points="757.8,1460.5 753.8,1450.5 761.8,1450.5" fill="#000"/>
<line x1="882" y1="1482.7" x2="945.5" y2="1482.7" stroke="#000" stroke-width="1.6" />
<polygon points="955.5,1482.7 945.5,1486.7 945.5,1478.7" fill="#000"/>
<text x="1191" y="1159" font-size="42" text-anchor="start" fill="#000" font-weight="bold" >g</text>
<rect x="1359.9" y="1155" width="95.8" height="94.1" fill="#eae525"/>
<text x="1407.6" y="1220.1" font-size="28.6" text-anchor="middle" fill="#ff1a1a" >97</text>
<rect x="1455.2" y="1155" width="95.5" height="94.1" fill="#45085b"/>
<text x="1502.7" y="1220.1" font-size="28.6" text-anchor="middle" fill="#ff1a1a" >2</text>
<rect x="1550.2" y="1155" width="95.4" height="94.1" fill="#440154"/>
<text x="1597.7" y="1220.1" font-size="28.6" text-anchor="middle" fill="#ff1a1a" >0</text>
<rect x="1645.1" y="1155" width="95.9" height="94.1" fill="#440457"/>
<text x="1692.8" y="1220.1" font-size="28.6" text-anchor="middle" fill="#ff1a1a" >1</text>
<rect x="1359.9" y="1248.6" width="95.8" height="95.4" fill="#45085b"/>
<text x="1407.6" y="1314.3" font-size="28.6" text-anchor="middle" fill="#ff1a1a" >2</text>
<rect x="1455.2" y="1248.6" width="95.5" height="95.4" fill="#e3e425"/>
<text x="1502.7" y="1314.3" font-size="28.6" text-anchor="middle" fill="#ff1a1a" >96</text>
<rect x="1550.2" y="1248.6" width="95.4" height="95.4" fill="#440154"/>
<text x="1597.7" y="1314.3" font-size="28.6" text-anchor="middle" fill="#ff1a1a" >0</text>
<rect x="1645.1" y="1248.6" width="95.9" height="95.4" fill="#45085b"/>
<text x="1692.8" y="1314.3" font-size="28.6" text-anchor="middle" fill="#ff1a1a" >2</text>
<rect x="1359.9" y="1343.5" width="95.8" height="95.9" fill="#460f61"/>
<text x="1407.6" y="1409.5" font-size="28.6" text-anchor="middle" fill="#ff1a1a" >4</text>
<rect x="1455.2" y="1343.5" width="95.5" height="95.9" fill="#440154"/>
<text x="1502.7" y="1409.5" font-size="28.6" text-anchor="middle" fill="#ff1a1a" >0</text>
<rect x="1550.2" y="1343.5" width="95.4" height="95.9" fill="#d7e226"/>
<text x="1597.7" y="1409.5" font-size="28.6" text-anchor="middle" fill="#ff1a1a" >94</text>
<rect x="1645.1" y="1343.5" width="95.9" height="95.9" fill="#45085b"/>
<text x="1692.8" y="1409.5" font-size="28.6" text-anchor="middle" fill="#ff1a1a" >2</text>
<rect x="1359.9" y="1438.9" width="95.8" height="96.2" fill="#460f61"/>
<text x="1407.6" y="1505" font-size="28.6" text-anchor="middle" fill="#ff1a1a" >4</text>
<rect x="1455.2" y="1438.9" width="95.5" height="96.2" fill="#460f61"/>
<text x="1502.7" y="1505" font-size="28.6" text-anchor="middle" fill="#ff1a1a" >4</text>
<rect x="1550.2" y="1438.9" width="95.4" height="96.2" fill="#450c5e"/>
<text x="1597.7" y="1505" font-size="28.6" text-anchor="middle" fill="#ff1a1a" >3</text>
<rect x="1645.1" y="1438.9" width="95.9" height="96.2" fill="#b6de2a"/>
<text x="1692.8" y="1505" font-size="28.6" text-anchor="middle" fill="#ff1a1a" >89</text>
<rect x="1359.9" y="1155.0" width="380.6" height="379.6" fill="none" stroke="#333" stroke-width="1"/>
<line x1="1407.6" y1="1155" x2="1407.6" y2="1151" stroke="#333" stroke-width="1" />
<line x1="1407.6" y1="1534.6" x2="1407.6" y2="1538.6" stroke="#333" stroke-width="1" />
<line x1="1502.7" y1="1155" x2="1502.7" y2="1151" stroke="#333" stroke-width="1" />
<line x1="1502.7" y1="1534.6" x2="1502.7" y2="1538.6" stroke="#333" stroke-width="1" />
<line x1="1597.7" y1="1155" x2="1597.7" y2="1151" stroke="#333" stroke-width="1" />
<line x1="1597.7" y1="1534.6" x2="1597.7" y2="1538.6" stroke="#333" stroke-width="1" />
<line x1="1692.8" y1="1155" x2="1692.8" y2="1151" stroke="#333" stroke-width="1" />
<line x1="1692.8" y1="1534.6" x2="1692.8" y2="1538.6" stroke="#333" stroke-width="1" />
<line x1="1359.9" y1="1201.8" x2="1355.9" y2="1201.8" stroke="#333" stroke-width="1" />
<line x1="1359.9" y1="1296" x2="1355.9" y2="1296" stroke="#333" stroke-width="1" />
<line x1="1359.9" y1="1391.2" x2="1355.9" y2="1391.2" stroke="#333" stroke-width="1" />
<line x1="1359.9" y1="1486.8" x2="1355.9" y2="1486.8" stroke="#333" stroke-width="1" />
<text x="1291" y="1195" font-size="28.6" text-anchor="middle" fill="#000" >Normal</text>
<text x="1291" y="1230" font-size="28.6" text-anchor="middle" fill="#000" >breath</text>
<text x="1293" y="1290" font-size="28.6" text-anchor="middle" fill="#000" >Fast</text>
<text x="1296" y="1324.5" font-size="28.6" text-anchor="middle" fill="#000" >breath</text>
<text x="1293" y="1384" font-size="28.6" text-anchor="middle" fill="#000" >Slow</text>
<text x="1296" y="1419" font-size="28.6" text-anchor="middle" fill="#000" >breath</text>
<text x="1296" y="1497" font-size="28.6" text-anchor="middle" fill="#000" >Speak</text>
<text transform="translate(1223,1346.5) rotate(-90)" font-size="28.6" text-anchor="middle">Actual class</text>
<text x="1406.6" y="1575" font-size="28.6" text-anchor="middle" fill="#000" >Normal</text>
<text x="1406.6" y="1610" font-size="28.6" text-anchor="middle" fill="#000" >breath</text>
<text x="1502.3" y="1575" font-size="28.6" text-anchor="middle" fill="#000" >Fast</text>
<text x="1502.3" y="1610" font-size="28.6" text-anchor="middle" fill="#000" >breath</text>
<text x="1597.3" y="1575" font-size="28.6" text-anchor="middle" fill="#000" >Slow</text>
<text x="1597.3" y="1610" font-size="28.6" text-anchor="middle" fill="#000" >breath</text>
<text x="1693" y="1575" font-size="28.6" text-anchor="middle" fill="#000" >Speak</text>
<text x="1550.7" y="1650" font-size="28.6" text-anchor="middle" fill="#000" >Predicted class</text>
<defs><linearGradient id="vir" x1="0" y1="1" x2="0" y2="0"><stop offset="0.0" stop-color="#440154"/><stop offset="0.1" stop-color="#482475"/><stop offset="0.2" stop-color="#414487"/><stop offset="0.3" stop-color="#355f8d"/><stop offset="0.4" stop-color="#2a788e"/><stop offset="0.5" stop-color="#21918c"/><stop offset="0.6" stop-color="#22a884"/><stop offset="0.7" stop-color="#44bf70"/><stop offset="0.8" stop-color="#7ad151"/><stop offset="0.9" stop-color="#bddf26"/><stop offset="1.0" stop-color="#fde725"/></linearGradient></defs>
<rect x="1758.1" y="1153.2" width="19.8" height="383.2" fill="url(#vir)" stroke="#1a1a1a" stroke-width="1.6"/>
<line x1="1777.9" y1="1536.4" x2="1789" y2="1536.4" stroke="#1a1a1a" stroke-width="1.3" />
<line x1="1777.9" y1="1459.8" x2="1789" y2="1459.8" stroke="#1a1a1a" stroke-width="1.3" />
<line x1="1777.9" y1="1383.1" x2="1789" y2="1383.1" stroke="#1a1a1a" stroke-width="1.3" />
<line x1="1777.9" y1="1306.5" x2="1789" y2="1306.5" stroke="#1a1a1a" stroke-width="1.3" />
<line x1="1777.9" y1="1229.8" x2="1789" y2="1229.8" stroke="#1a1a1a" stroke-width="1.3" />
<line x1="1777.9" y1="1153.2" x2="1789" y2="1153.2" stroke="#1a1a1a" stroke-width="1.3" />
<text x="1802" y="1164" font-size="28.6" text-anchor="start" fill="#000" >100</text>
<text x="1802" y="1546.5" font-size="28.6" text-anchor="start" fill="#000" >0</text>
<text x="0" y="31" font-size="42" text-anchor="start" fill="#000" font-weight="bold" >a</text>
<defs><clipPath id="phc"><rect x="39.5" y="70.2" width="446.3" height="341.6"/></clipPath><filter id="bl1" x="-10%" y="-10%" width="120%" height="120%"><feGaussianBlur stdDeviation="1"/></filter><filter id="bl2" x="-20%" y="-20%" width="140%" height="140%"><feGaussianBlur stdDeviation="2.5"/></filter><filter id="bl4" x="-30%" y="-30%" width="160%" height="160%"><feGaussianBlur stdDeviation="5"/></filter><radialGradient id="mon" cx="0.5" cy="0.5" r="0.6"><stop offset="0" stop-color="#6b6d58"/><stop offset="1" stop-color="#35372d"/></radialGradient><linearGradient id="skin" x1="0" y1="0" x2="1" y2="0"><stop offset="0" stop-color="#a88a7e"/><stop offset="0.45" stop-color="#8e6e62"/><stop offset="1" stop-color="#6c4e44"/></linearGradient><linearGradient id="maskL" x1="0" y1="0" x2="1" y2="1"><stop offset="0" stop-color="#dcdce6"/><stop offset="0.5" stop-color="#e6e6ee"/><stop offset="1" stop-color="#d8d8e2"/></linearGradient><linearGradient id="maskR" x1="0" y1="0" x2="1" y2="1"><stop offset="0" stop-color="#e2e2ea"/><stop offset="0.6" stop-color="#d9d9e2"/><stop offset="1" stop-color="#cfd0da"/></linearGradient><linearGradient id="inbg" x1="0" y1="0" x2="1" y2="0"><stop offset="0" stop-color="#8e9a50"/><stop offset="0.12" stop-color="#c4ca80"/><stop offset="0.88" stop-color="#c0c67c"/><stop offset="1" stop-color="#8a944c"/></linearGradient></defs>
<g clip-path="url(#phc)">
<rect x="39.5" y="70.2" width="446.3" height="341.6" fill="#cfd0d5"/>
<path d="M39.0,124.7 L94.9,124.7 L102.2,172.1 L107.1,240.2 L119.2,300.9 L141.1,322.8 L119.2,412.0 L39.0,412.0 Z" fill="#17171d"/>
<rect x="39.0" y="225.6" width="31.6" height="116.7" rx="3" fill="url(#mon)" filter="url(#bl1)"/>
<path d="M39.0,125.9 L87.6,125.9 L87.6,142.9 L39.0,142.9 Z" fill="#0e0e12"/>
<rect x="465.6" y="118.6" width="10.9" height="121.6" fill="#5e5e66" filter="url(#bl1)"/>
<rect x="428.0" y="186.7" width="14.6" height="48.6" fill="#2a2a30" filter="url(#bl1)"/>
<path d="M75.5,70.0 L457.1,70.0 L458.3,99.2 L452.3,162.4 L440.1,206.1 L425.5,254.8 L391.5,313.1 L306.4,386.0 L282.1,412.0 L141.1,412.0 L131.4,337.4 L102.2,264.5 L85.2,196.4 L75.5,172.1 L75.5,130.8 L73.0,84.6 Z" fill="url(#skin)"/>
<path d="M70.6,70.0 L94.9,70.0 L90.1,84.6 L77.9,84.6 Z" fill="#2a2220" filter="url(#bl1)"/>
<path d="M372.0,70.0 L391.5,70.0 L389.1,84.6 L376.9,82.2 Z" fill="#2a2220" filter="url(#bl1)"/>
<path d="M56.0,96.7 C59.1,91.3 68.0,86.6 73.0,88.2 C78.1,89.9 83.8,96.1 86.4,106.5 C89.0,116.8 89.0,136.4 88.8,150.2 C88.6,164.0 87.4,184.7 85.2,189.1 C83.0,193.6 79.1,183.4 75.5,177.0 C71.8,170.5 66.8,159.5 63.3,150.2 C59.9,140.9 56.0,130.0 54.8,121.1 C53.6,112.1 53.0,102.2 56.0,96.7 Z" fill="#b88877" filter="url(#bl1)"/>
<path d="M437.7,87.0 C441.3,83.4 448.6,81.3 452.3,84.6 C455.9,87.8 458.8,95.5 459.6,106.5 C460.4,117.4 459.2,136.9 457.1,150.2 C455.1,163.6 451.5,179.8 447.4,186.7 C443.4,193.6 436.1,198.0 432.8,191.6 C429.6,185.1 428.4,162.0 428.0,147.8 C427.6,133.6 428.8,116.6 430.4,106.5 C432.0,96.3 434.0,90.7 437.7,87.0 Z" fill="#8d6252" filter="url(#bl1)"/>
<path d="M87.6,70.0 C136.2,65.5 353.0,66.4 403.7,70.0 C454.3,73.6 407.7,87.0 391.5,91.9 C375.3,96.7 328.7,98.8 306.4,99.2 C284.1,99.6 274.0,94.3 257.8,94.3 C241.6,94.3 233.5,98.8 209.2,99.2 C184.9,99.6 132.2,101.6 111.9,96.7 C91.7,91.9 39.0,74.5 87.6,70.0 Z" fill="url(#skin)" opacity="0.6" filter="url(#bl2)"/>
<path d="M143.5,342.3 C161.8,337.9 230.6,379.5 257.8,386.0 C284.9,392.5 300.3,376.8 306.4,381.2 C312.5,385.5 320.6,406.9 294.3,412.0 C267.9,417.2 173.5,423.7 148.4,412.0 C123.3,400.4 125.3,346.6 143.5,342.3 Z" fill="#6a4d42" filter="url(#bl2)"/>
<path d="M146.0,349.6 C148.4,340.8 160.6,348.9 165.4,359.3 C170.3,369.7 177.6,403.2 175.1,412.0 C172.7,420.8 155.7,422.5 150.8,412.0 C146.0,401.6 143.5,358.4 146.0,349.6 Z" fill="#d9cfc4" filter="url(#bl1)"/>
<path d="M79.1,67.6 C79.9,70.0 81.3,77.7 84.0,82.2 C86.6,86.6 90.3,91.4 94.9,94.3 C99.6,97.2 100.2,98.5 111.9,99.7 C123.7,100.8 150.0,101.8 165.4,101.1 C180.8,100.4 194.6,98.7 204.3,95.5 C214.0,92.4 219.3,86.8 223.8,82.2 C228.2,77.5 229.8,70.0 231.0,67.6" fill="none" stroke="#111" stroke-width="8.5"/>
<path d="M278.5,67.6 C279.9,70.4 283.7,80.3 287.2,84.6 C290.7,88.8 291.3,91.3 299.4,93.1 C307.5,94.9 320.6,95.9 335.8,95.5 C351.0,95.1 378.8,93.3 390.5,90.7 C402.3,88.0 403.1,83.6 406.3,79.7 C409.6,75.9 409.4,69.6 410.0,67.6" fill="none" stroke="#111" stroke-width="8.5"/>
<path d="M398.8,77.3 C402.0,78.1 411.8,81.5 418.2,82.2 C424.7,82.8 434.4,81.1 437.7,80.9" fill="none" stroke="#1a1a1a" stroke-width="4"/>
<path d="M71.8,163.6 L103.4,169.7 L104.6,180.6 L75.5,172.1 Z" fill="#d6d6de"/>
<path d="M396.4,162.4 L431.6,161.9 L428.0,172.1 L398.8,173.3 Z" fill="#d0d0d8"/>
<path d="M109.5,287.6 L136.2,292.4 L137.5,302.2 L111.9,297.3 Z" fill="#d6d6de"/>
<path d="M250.5,70.0 C244.0,64.0 225.4,78.0 214.0,82.6 C202.7,87.3 193.4,93.6 182.4,98.0 C171.5,102.3 158.9,105.0 148.4,108.9 C137.9,112.8 127.4,116.6 119.2,121.5 C111.0,126.5 104.3,131.7 99.3,138.6 C94.3,145.4 91.4,153.5 89.3,162.4 C87.3,171.2 87.0,178.6 86.9,191.6 C86.8,204.5 86.2,226.0 88.8,240.2 C91.5,254.4 97.4,267.1 102.7,276.6 C108.0,286.2 112.8,289.2 120.4,297.3 C128.1,305.4 136.8,315.7 148.4,325.3 C159.9,334.8 173.5,344.5 189.7,354.4 C205.9,364.4 235.9,406.3 245.6,384.8 C255.4,363.3 246.9,269.9 248.1,225.6 C249.3,181.2 252.5,144.6 252.9,118.6 C253.3,92.7 257.0,76.0 250.5,70.0 Z" fill="url(#maskL)"/>
<path d="M252.9,70.0 C258.6,46.5 269.1,78.9 282.1,84.6 C295.1,90.3 315.3,98.0 330.7,104.0 C346.1,110.1 363.1,115.0 374.5,121.1 C385.8,127.1 391.9,132.0 398.8,140.5 C405.7,149.0 411.6,159.5 415.8,172.1 C420.1,184.7 422.7,200.5 424.3,215.9 C425.9,231.3 426.5,249.1 425.5,264.5 C424.5,279.9 422.7,294.5 418.2,308.2 C413.8,322.0 409.3,336.6 398.8,347.1 C388.3,357.7 372.5,365.8 355.0,371.4 C337.6,377.1 312.5,378.9 294.3,381.2 C276.0,383.4 253.3,410.7 245.6,384.8 C237.9,358.9 246.9,278.1 248.1,225.6 C249.3,173.1 247.3,93.5 252.9,70.0 Z" fill="url(#maskR)"/>
<path d="M248.1,74.9 C242.4,76.8 225.0,82.1 214.0,86.5 C203.1,91.0 193.4,97.3 182.4,101.6 C171.5,105.9 158.6,108.7 148.4,112.5 C138.2,116.4 128.8,120.2 121.2,124.9 C113.6,129.7 107.4,134.5 102.7,141.0 C98.0,147.4 95.0,155.2 93.0,163.6 C90.9,172.0 90.6,178.8 90.5,191.6 C90.5,204.3 92.2,232.1 92.5,240.2" fill="none" stroke="#8e8e9c" stroke-width="2.0" stroke-dasharray="1.5 2.0" opacity="0.85"/>
<path d="M248.1,80.9 C242.8,82.8 227.0,87.6 216.5,91.9 C205.9,96.1 195.6,102.2 184.9,106.5 C174.1,110.8 162.0,113.8 152.0,117.6 C142.1,121.5 132.7,125.0 125.3,129.6 C117.9,134.1 112.1,138.8 107.6,144.9 C103.1,151.0 100.3,158.2 98.3,166.0 C96.4,173.8 96.0,179.6 95.9,191.6 C95.8,203.5 97.5,230.0 97.8,237.7" fill="none" stroke="#8e8e9c" stroke-width="2.0" stroke-dasharray="1.5 2.0" opacity="0.75"/>
<path d="M257.8,74.9 C262.2,77.1 272.4,82.8 284.5,88.2 C296.7,93.7 316.1,101.6 330.7,107.7 C345.3,113.8 361.3,118.6 372.0,124.7 C382.8,130.8 388.7,135.8 395.1,144.1 C401.6,152.5 406.9,162.6 410.9,174.5 C415.0,186.5 417.8,200.9 419.5,215.9 C421.1,230.9 421.7,249.1 420.7,264.5 C419.7,279.9 414.6,300.9 413.4,308.2" fill="none" stroke="#7c7e8e" stroke-width="2.2" stroke-dasharray="1.6 2.0" opacity="0.85"/>
<path d="M257.8,80.9 C261.8,83.1 270.6,88.4 282.1,93.8 C293.6,99.2 312.9,107.3 327.1,113.3 C341.3,119.3 356.9,124.0 367.2,129.8 C377.5,135.6 382.9,140.4 389.1,148.3 C395.3,156.1 400.4,165.7 404.4,177.0 C408.3,188.2 411.3,201.3 412.9,215.9 C414.5,230.4 415.0,249.5 414.1,264.5 C413.2,279.5 408.4,298.9 407.3,305.8" fill="none" stroke="#7c7e8e" stroke-width="2.2" stroke-dasharray="1.6 2.0" opacity="0.75"/>
<path d="M240.8,84.6 L255.4,84.6 L252.9,225.6 L251.0,383.6 L239.6,383.6 L240.3,225.6 Z" fill="#f0f0f4"/>
<path d="M253.4,84.6 L255.8,84.6 L253.4,225.6 L251.5,383.6 L249.5,383.6 L251.5,225.6 Z" fill="#c8c8d2" opacity="0.7"/>
<path d="M248.1,96.7 L246.9,225.6 L245.6,383.6" fill="none" stroke="#b8b8c4" stroke-width="1.2"/>
<path d="M158.1,129.6 L228.6,96.7" stroke="#8a8a92" stroke-width="6" stroke-linecap="round" fill="none"/>
<path d="M279.7,95.5 L353.8,133.7" stroke="#85858e" stroke-width="6" stroke-linecap="round" fill="none"/>
<path d="M245.6,90.7 L284.5,93.1" stroke="#b0b0b8" stroke-width="6" fill="none"/>
<path d="M124.1,194.0 L231.0,208.6" stroke="#9a9aa4" stroke-width="2.6" fill="none"/>
<path d="M248.1,209.8 L369.6,192.8" stroke="#8e8e98" stroke-width="3" fill="none"/>
<path d="M94.9,254.8 C93.7,256.0 103.8,278.3 111.9,288.8 C120.0,299.3 131.4,308.2 143.5,318.0 C155.7,327.7 168.2,336.6 184.9,347.1 C201.5,357.7 233.1,382.0 243.2,381.2 C253.3,380.4 255.4,353.6 245.6,342.3 C235.9,330.9 205.9,323.2 184.9,313.1 C163.8,303.0 134.2,291.2 119.2,281.5 C104.2,271.8 96.1,253.5 94.9,254.8 Z" fill="#d2d2dc" opacity="0.6" filter="url(#bl2)"/>
<text transform="translate(302.8,251.1) rotate(-7)" font-size="24" font-weight="bold" fill="#4a4c5a" textLength="57" lengthAdjust="spacingAndGlyphs">9502V</text>
<text transform="translate(269.9,271.8) rotate(-8)" font-size="9.5" font-style="italic" fill="#55576a">GB2626-2006 KN95</text>
<text transform="translate(268.7,283.9) rotate(-8)" font-size="9.5" fill="#55576a">使用前请</text>
<text transform="translate(268.7,299.7) rotate(-10)" font-size="10" font-style="italic" fill="#55576a">See use</text>
<text transform="translate(268.7,314.3) rotate(-10)" font-size="10" font-style="italic" fill="#55576a">before u</text>
<rect x="262.7" y="332.5" width="18" height="40" rx="2" fill="#e6e6ec" stroke="#b0b0b8" stroke-width="0.8" transform="rotate(-6 262.7 332.5)"/>
<circle cx="274.3" cy="353.2" r="6" fill="#2c8a4a"/>
<path d="M39.0,412.0 C20.0,409.3 32.9,401.7 39.0,395.8 C45.1,389.8 64.1,385.2 75.5,376.3 C86.8,367.4 98.6,352.0 107.1,342.3 C115.6,332.5 121.7,323.0 126.5,318.0 C131.4,312.9 133.4,310.3 136.2,311.9 C139.1,313.5 141.3,319.4 143.5,327.7 C145.8,336.0 148.0,347.7 149.6,361.7 C151.2,375.8 171.7,403.7 153.3,412.0 C134.8,420.4 58.0,414.8 39.0,412.0 Z" fill="#4f86e6"/>
<path d="M53.6,398.2 C59.3,394.1 77.1,382.8 87.6,373.9 C98.2,365.0 109.1,352.8 116.8,344.7 C124.5,336.6 131.0,328.5 133.8,325.3" fill="none" stroke="#3a6cc8" stroke-width="3" opacity="0.7"/>
<path d="M82.8,412.0 C87.6,406.1 103.0,387.1 111.9,376.3 C120.8,365.5 132.2,352.0 136.2,347.1" fill="none" stroke="#6a9cf0" stroke-width="4" opacity="0.6"/>
<path d="M153.3,240.2 C156.3,230.0 154.5,226.2 165.4,223.2 C176.4,220.1 207.5,219.5 218.9,221.9 C230.2,224.4 230.6,219.3 233.5,237.7 C236.3,256.2 242.4,315.5 235.9,332.5 C229.4,349.6 208.4,340.7 194.6,339.8 C180.8,339.0 161.2,337.0 153.3,327.7 C145.4,318.4 147.2,298.5 147.2,283.9 C147.2,269.3 150.2,250.3 153.3,240.2 Z" fill="#f1f1f4"/>
<path d="M163.0,223.2 L223.8,221.9 L228.6,240.2 L160.6,240.2 Z" fill="#f8f8fa"/>
<path d="M204.3,240.2 L233.5,237.7 L234.7,332.5 L206.7,337.4 Z" fill="#e6e6ec"/>
<path d="M194.6,296.1 L243.2,296.1 L243.2,313.1 L194.6,313.1 Z" fill="#e4e4c6" opacity="0.9"/>
<rect x="158.1" y="314.3" width="9.2" height="8.5" fill="#2e5a34"/>
<rect x="169.1" y="315.5" width="8.8" height="8.5" fill="#2e5a34"/>
<rect x="181.9" y="314.3" width="8.3" height="10.9" fill="#2e5a34"/>
<rect x="196.5" y="292.4" width="7.8" height="8.5" fill="#2e5a34"/>
<path d="M163.0,325.3 C162.6,329.3 162.2,339.4 160.6,349.6 C158.9,359.7 154.9,375.6 153.3,386.0 C151.6,396.4 151.2,407.7 150.8,412.0" fill="none" stroke="#3a2520" stroke-width="1"/>
<path d="M183.6,327.7 C183.4,333.4 181.8,351.2 182.4,361.7 C183.0,372.3 185.3,382.5 187.3,390.9 C189.3,399.3 193.4,408.5 194.6,412.0" fill="none" stroke="#2a1a18" stroke-width="1"/>
<path d="M188.5,327.7 C188.4,333.4 187.2,351.2 187.8,361.7 C188.4,372.3 190.2,382.5 192.2,390.9 C194.1,399.3 198.2,408.5 199.4,412.0" fill="none" stroke="#2a1a18" stroke-width="1"/>
<rect x="136.8" y="242" width="100" height="99.5" fill="none" stroke="#ff3c1e" stroke-width="2.6"/>
<line x1="244.4" y1="309.5" x2="276" y2="322.6" stroke="#ff3c1e" stroke-width="2.2"/>
<polygon points="286,326.8 273.2,327.4 277.2,318" fill="#ff3c1e"/>
<rect x="293.0" y="266.7" width="193.0" height="145.3" fill="url(#inbg)"/>
<path d="M330,266.7 L420,266.7 L410,276 L345,276 Z" fill="#1e3320" opacity="0.75" filter="url(#bl2)"/>
<path d="M293,266.7 L310,266.7 L305,280 L293,285 Z" fill="#2a3a1a" opacity="0.7" filter="url(#bl1)"/>
<path d="M470,266.7 L486,266.7 L486,280 Z" fill="#2a3a1a" opacity="0.6" filter="url(#bl1)"/>
<rect x="293.0" y="400" width="193.0" height="12" fill="#c4c486" opacity="0.8" filter="url(#bl1)"/>
<path d="M303,280 L468.3,272.6 L468.3,400.2 L320,399 Z" fill="#cfcf2e"/>
<path d="M315,290 L456.8,283.9 L457.9,390.7 L331.7,389.6 Z" fill="#f4f4ec" stroke="#fafaf2" stroke-width="1.5"/>
<path d="M319,292 L453.5,287 L454.5,387.5 L334.5,386.8 Z" fill="#d2d236"/>
<path d="M329.5,292.2 L381.7,290.6 L390.1,387.3 L340.6,387.3 Z" fill="#b3bc9a" stroke="#4a4e6a" stroke-width="0.8"/>
<path d="M385.6,292.2 L441.2,288.4 L442.9,387.9 L393.4,387.9 Z" fill="#c2c746"/>
<path d="M384,292 L391,388" stroke="#f0f0e8" stroke-width="1.2"/>
<line x1="322.8" y1="298.4" x2="300" y2="280" stroke="#1e2a18" stroke-width="3.2" opacity="0.8" filter="url(#bl1)"/>
<line x1="325" y1="310" x2="293" y2="305" stroke="#1e2a18" stroke-width="3.2" opacity="0.8" filter="url(#bl1)"/>
<line x1="329.5" y1="342.8" x2="293" y2="352" stroke="#1e2a18" stroke-width="3.2" opacity="0.8" filter="url(#bl1)"/>
<line x1="332.3" y1="364" x2="293" y2="392" stroke="#1e2a18" stroke-width="3.2" opacity="0.8" filter="url(#bl1)"/>
<line x1="335" y1="384.5" x2="318" y2="412" stroke="#1e2a18" stroke-width="3.2" opacity="0.8" filter="url(#bl1)"/>
<line x1="448.5" y1="293.4" x2="472" y2="275" stroke="#1e2a18" stroke-width="3.2" opacity="0.8" filter="url(#bl1)"/>
<line x1="449.6" y1="316.7" x2="486" y2="305" stroke="#1e2a18" stroke-width="3.2" opacity="0.8" filter="url(#bl1)"/>
<line x1="449.6" y1="340.6" x2="486" y2="345" stroke="#1e2a18" stroke-width="3.2" opacity="0.8" filter="url(#bl1)"/>
<line x1="450.7" y1="374" x2="486" y2="392" stroke="#1e2a18" stroke-width="3.2" opacity="0.8" filter="url(#bl1)"/>
<line x1="451.8" y1="384.5" x2="470" y2="412" stroke="#1e2a18" stroke-width="3.2" opacity="0.8" filter="url(#bl1)"/>
<rect x="318.3" y="293.9" width="9" height="9" fill="#eeeef2"/>
<circle cx="322.8" cy="298.4" r="3.6" fill="#141428"/>
<rect x="320.5" y="305.5" width="9" height="9" fill="#eeeef2"/>
<circle cx="325" cy="310" r="3.6" fill="#141428"/>
<rect x="325.0" y="338.3" width="9" height="9" fill="#eeeef2"/>
<circle cx="329.5" cy="342.8" r="3.6" fill="#141428"/>
<rect x="327.8" y="359.5" width="9" height="9" fill="#eeeef2"/>
<circle cx="332.3" cy="364" r="3.6" fill="#141428"/>
<rect x="330.5" y="380.0" width="9" height="9" fill="#eeeef2"/>
<circle cx="335" cy="384.5" r="3.6" fill="#141428"/>
<rect x="444.0" y="288.9" width="9" height="9" fill="#eeeef2"/>
<circle cx="448.5" cy="293.4" r="3.6" fill="#141428"/>
<rect x="445.1" y="312.2" width="9" height="9" fill="#eeeef2"/>
<circle cx="449.6" cy="316.7" r="3.6" fill="#141428"/>
<rect x="445.1" y="336.1" width="9" height="9" fill="#eeeef2"/>
<circle cx="449.6" cy="340.6" r="3.6" fill="#141428"/>
<rect x="446.2" y="369.5" width="9" height="9" fill="#eeeef2"/>
<circle cx="450.7" cy="374" r="3.6" fill="#141428"/>
<rect x="447.3" y="380.0" width="9" height="9" fill="#eeeef2"/>
<circle cx="451.8" cy="384.5" r="3.6" fill="#141428"/>
<rect x="323" y="315" width="8" height="8" fill="#e8e8f4" stroke="#6a70b0" stroke-width="0.8"/>
<rect x="329" y="370" width="8" height="8" fill="#e8e8f4" stroke="#6a70b0" stroke-width="0.8"/>
<rect x="445" y="301" width="8" height="8" fill="#e8e8f4" stroke="#6a70b0" stroke-width="0.8"/>
<rect x="447" y="359" width="8" height="8" fill="#e8e8f4" stroke="#6a70b0" stroke-width="0.8"/>
<circle cx="413" cy="390" r="1.6" fill="#222"/>
</g>
</svg>
</body></html>
